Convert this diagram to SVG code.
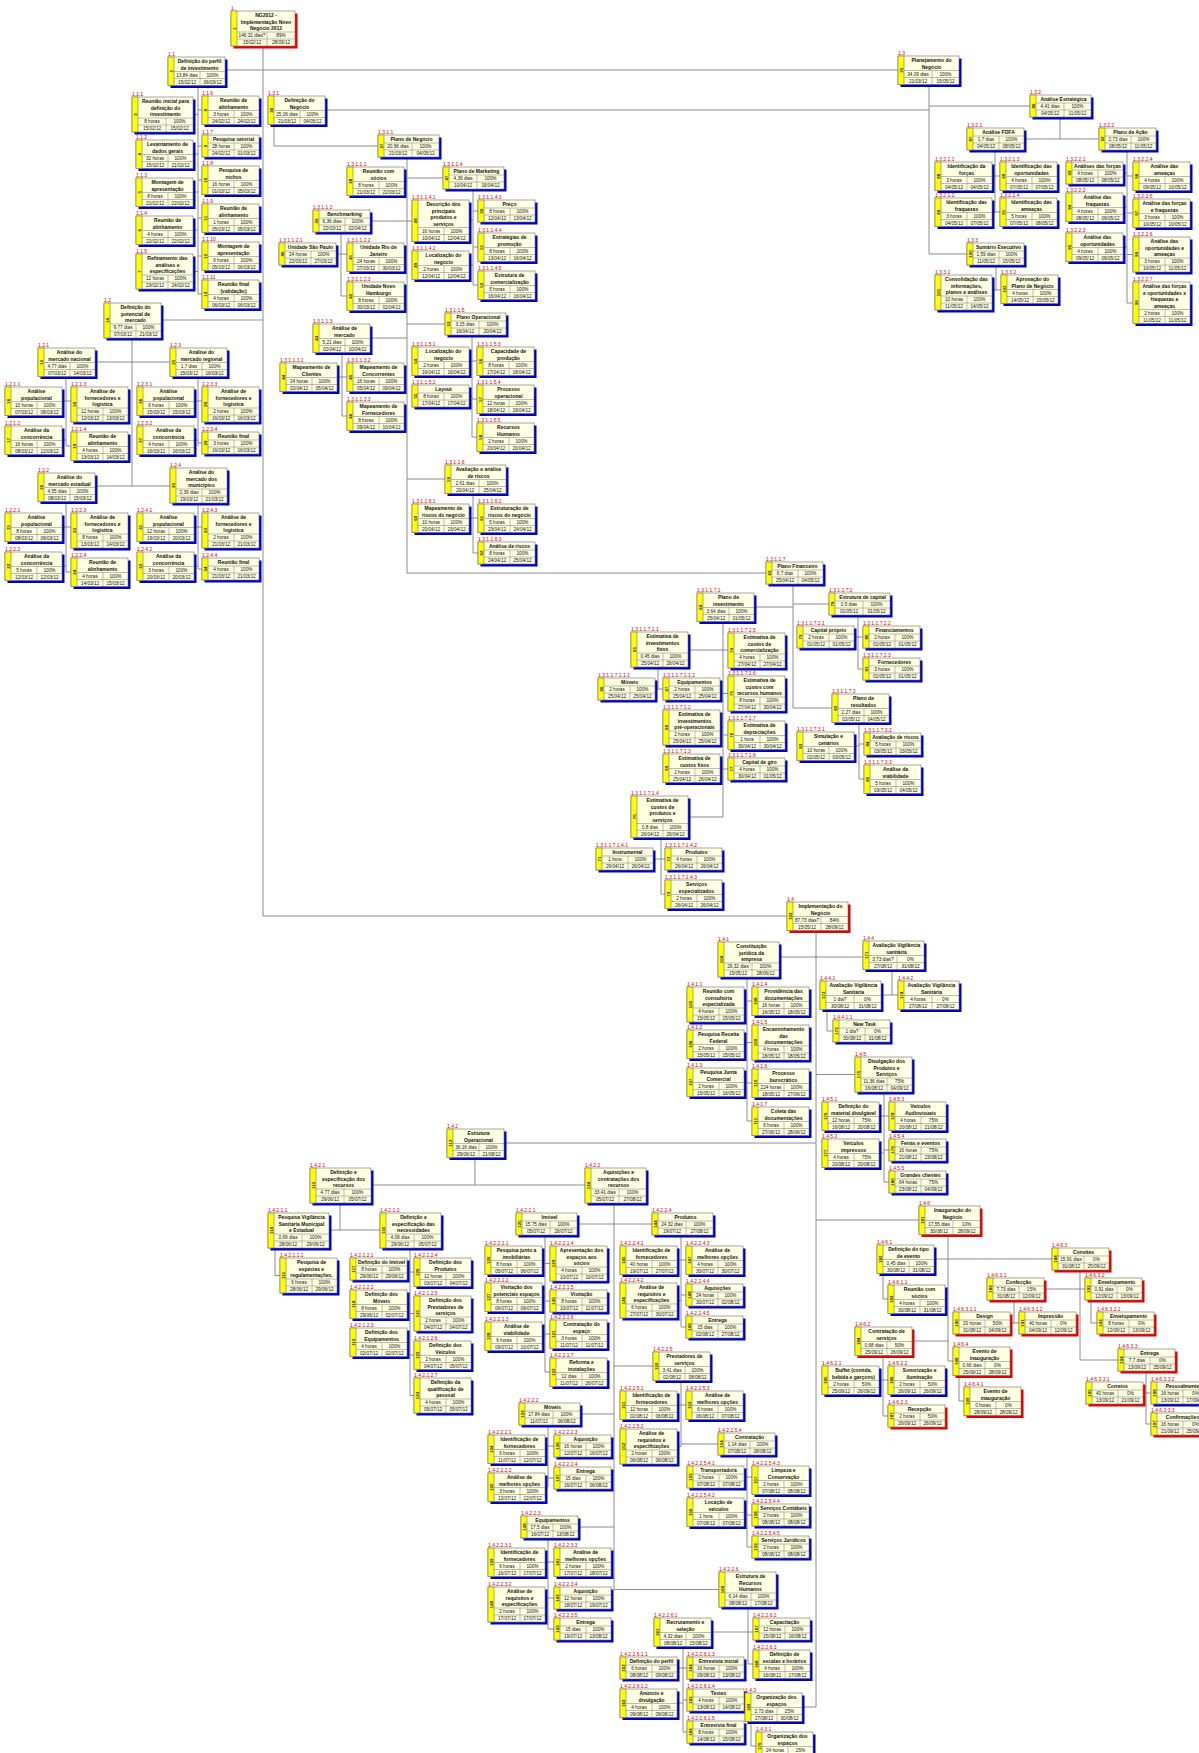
<svg xmlns="http://www.w3.org/2000/svg" xmlns:xlink="http://www.w3.org/1999/xlink" width="1199" height="1753" viewBox="0 0 1199 1753">
<style>
text{font-family:"Liberation Sans",Arial,sans-serif;fill:#111}
.bx{fill:#ffffe1;stroke:#6e6e6e;stroke-width:.6}
.st{fill:#ffff00;stroke:#6e6e6e;stroke-width:.6}
.sh{fill:currentColor}
.ln{stroke:#7a7a7a;stroke-width:.5;fill:none}
use{color:#0000c0}
.k use{color:#e00000}
.c{font-size:5px;fill:#d40000}
.t{font-size:5px;font-weight:bold;text-anchor:middle}
.d{font-size:4.7px;text-anchor:middle}
.i{font-size:4.4px;font-weight:bold;text-anchor:middle;transform:rotate(-90deg)}
#connectors path{stroke:#808080;stroke-width:.9;fill:none}
</style>
<defs>
<g id="a1"><rect class="sh" x="2.5" y="2.5" width="57" height="22"/><rect class="bx" width="57" height="22"/><rect class="st" width="6" height="22"/><path class="ln" d="M6 8H57M6 15H57M32 8V22"/></g>
<g id="a2"><rect class="sh" x="2.5" y="2.5" width="57" height="28.5"/><rect class="bx" width="57" height="28.5"/><rect class="st" width="6" height="28.5"/><path class="ln" d="M6 14.5H57M6 21.5H57M32 14.5V28.5"/></g>
<g id="a3"><rect class="sh" x="2.5" y="2.5" width="57" height="35"/><rect class="bx" width="57" height="35"/><rect class="st" width="6" height="35"/><path class="ln" d="M6 21H57M6 28H57M32 21V35"/></g>
<g id="a4"><rect class="sh" x="2.5" y="2.5" width="57" height="41.5"/><rect class="bx" width="57" height="41.5"/><rect class="st" width="6" height="41.5"/><path class="ln" d="M6 27.5H57M6 34.5H57M32 27.5V41.5"/></g>
<g id="b1"><rect class="sh" x="2.5" y="2.5" width="61" height="22"/><rect class="bx" width="61" height="22"/><rect class="st" width="6" height="22"/><path class="ln" d="M6 8H61M6 15H61M34 8V22"/></g>
<g id="b2"><rect class="sh" x="2.5" y="2.5" width="61" height="28.5"/><rect class="bx" width="61" height="28.5"/><rect class="st" width="6" height="28.5"/><path class="ln" d="M6 14.5H61M6 21.5H61M34 14.5V28.5"/></g>
<g id="b3"><rect class="sh" x="2.5" y="2.5" width="61" height="35"/><rect class="bx" width="61" height="35"/><rect class="st" width="6" height="35"/><path class="ln" d="M6 21H61M6 28H61M34 21V35"/></g>
</defs>
<rect width="1199" height="1753" fill="#ffffff"/>
<g id="connectors">
<path d="M263 46V916M225 70H898M161 320H263M263 916H787"/>
<path d="M198 85.5V294M193 114.5H198M193 154H198M193 192H198M193 230H198M193 271.5H198M198 110H202M198 146H202M198 180H202M198 218H202M198 256H202M198 294H202"/>
<path d="M132 338V486M95 362H170M95 486H170"/>
<path d="M66 376.5V446M62 401H71M62 440H66M66 446H71"/>
<path d="M198 376.5V446M194 401H202M194 440H198M198 443H202"/>
<path d="M66 501.5V572M62 527H71M62 566H66M66 572H71"/>
<path d="M198 503V569M194 527H202M194 566H198M198 569H202"/>
<path d="M929 84.5V254M325 110H929M929 106H1030M929 254H967"/>
<path d="M274 124.5V146H378"/>
<path d="M407 157V573M404 181H407M407 178H443M370 221H412M370 338H407M407 324H445M407 479H445M407 573H766"/>
<path d="M341 232V296M336 254H347M341 296H347"/>
<path d="M342 352.5V416M337 377H347M342 416H347"/>
<path d="M473 189V285M469 220H473M473 211H478M469 265H473M473 247H478M473 285H478"/>
<path d="M472 335V437M469 361H477M469 396H472M472 399H477M472 437H477"/>
<path d="M473 493.5V553M469 518H478M473 553H478"/>
<path d="M793 584V708M754 607H793M793 604H829M793 708H832"/>
<path d="M723 621.5V817M688 650H728M723 693.5H728M723 735H728M723 769H728M720 727.5H723M720 768H723M688 817H723"/>
<path d="M658 667V689M655 689H663"/>
<path d="M661 837.5V894M653 859H665M661 894H665"/>
<path d="M858 615V669M854 637H863M858 669H863"/>
<path d="M859 722.5V779M854 746H859M859 744H864M859 779H864"/>
<path d="M1060 117V139M1024 139H1099"/>
<path d="M995 150V212M992 176H1000M992 212H1000"/>
<path d="M1127 150V303M1123 173H1127M1123 207H1127M1123 247H1127M1127 176H1133M1127 213H1133M1127 254.5H1133M1127 303H1133"/>
<path d="M996 265V290M992 290H1001"/>
<path d="M816 930.5V1707M779 957H863M816 1074.5H855M504 1143H816M816 1220H919M802 1707H816"/>
<path d="M747 977V1121M744 1004.5H747M744 1044H747M744 1082H747M747 1001H752M747 1042.5H752M747 1083H752M747 1121H752"/>
<path d="M892 969.5V995M881 995H898"/>
<path d="M827 1009.5V1031H833"/>
<path d="M884 1092V1182M879 1116H889M879 1153H884M884 1150H889M884 1182H889"/>
<path d="M475 1157.5V1185M371 1185H585"/>
<path d="M340 1203V1230M329 1230H380"/>
<path d="M275 1248V1275.5H280"/>
<path d="M410 1248V1395.5M407 1269H410M407 1304H410M407 1342H410M410 1272H414M410 1313.5H414M410 1355H414M410 1395.5H414"/>
<path d="M614 1203V1589.5M577 1224H652M614 1366H653M580 1414H614M578 1527H614M614 1589.5H719"/>
<path d="M545 1235V1372M542 1260H545M542 1297H545M542 1336H545M545 1263.5H550M545 1301H550M545 1334H550M545 1372H550"/>
<path d="M548 1425V1487M545 1449H548M545 1487H548M548 1446H554M548 1478H554"/>
<path d="M548 1538V1629M545 1562H554M545 1604.5H548M548 1598H554M548 1629H554"/>
<path d="M681 1235V1327M677 1260H686M677 1300.5H681M681 1295H686M681 1327H686"/>
<path d="M681 1380.5V1446.5M677 1405H686M677 1446.5H681M681 1444H718"/>
<path d="M747 1455V1547M744 1477H752M744 1512H747M747 1515H752M747 1547H752"/>
<path d="M748 1607V1664M711 1632H753M748 1664H753"/>
<path d="M683 1646.5V1732M677 1668H687M677 1703H683M683 1700H687M683 1732H687"/>
<path d="M751 1721.5V1746H756"/>
<path d="M948 1234.5V1361M934 1259H1052M912 1341H948M948 1361H953"/>
<path d="M883 1273.5V1299H888"/>
<path d="M1080 1270V1360M1044 1289H1085M1080 1360H1118"/>
<path d="M1014 1300V1323M1010 1323H1019"/>
<path d="M1091 1300V1323H1097"/>
<path d="M1146 1371V1424M1143 1393H1151M1146 1424H1151"/>
<path d="M883 1355.5V1416M879 1380H888M883 1416H888"/>
<path d="M959 1375.5V1401H964"/>
</g>

<g id="n1" transform="translate(231,11)"><rect x="2.5" y="2.5" width="64" height="35" fill="#e00000"/><rect class="bx" width="64" height="35"/><rect class="st" width="6" height="35"/><path class="ln" d="M6 21H64M6 28H64M36 21V35"/><text class="c" y="-1.5">1</text><text class="i" x="-17.5" y="4.7">1</text><text class="t" x="35" y="6.2">NG2012 -<tspan x="35" dy="6.5">Implementação Novo</tspan><tspan x="35" dy="6.5">Negócio 2012</tspan></text><text class="d" y="26.2"><tspan x="21">146,32 dias?</tspan><tspan x="50">89%</tspan><tspan x="21" dy="7">15/02/12</tspan><tspan x="50">28/09/12</tspan></text></g>

<g id="n1.1" transform="translate(168,57)"><use href="#a2"/><text class="c" y="-1.5">1.1</text><text class="i" x="-14.2" y="4.7">2</text><text class="t" x="31.5" y="6.2">Definição do perfil<tspan x="31.5" dy="6.5">de investimento</tspan></text><text class="d" y="19.7"><tspan x="19">13,84 dias</tspan><tspan x="44.5">100%</tspan><tspan x="19" dy="7">15/02/12</tspan><tspan x="44.5">06/03/12</tspan></text></g>
<g id="n1.1.1" transform="translate(132,97)"><use href="#b3"/><text class="c" y="-1.5">1.1.1</text><text class="i" x="-17.5" y="4.7">3</text><text class="t" x="33.5" y="6.2">Reunião inicial para<tspan x="33.5" dy="6.5">definição do</tspan><tspan x="33.5" dy="6.5">investimento</tspan></text><text class="d" y="26.2"><tspan x="20">8 horas</tspan><tspan x="47.5">100%</tspan><tspan x="20" dy="7">15/02/12</tspan><tspan x="47.5">15/02/12</tspan></text></g>
<g id="n1.1.2" transform="translate(136,140)"><use href="#a2"/><text class="c" y="-1.5">1.1.2</text><text class="i" x="-14.2" y="4.7">4</text><text class="t" x="31.5" y="6.2">Levantamento de<tspan x="31.5" dy="6.5">dados gerais</tspan></text><text class="d" y="19.7"><tspan x="19">32 horas</tspan><tspan x="44.5">100%</tspan><tspan x="19" dy="7">15/02/12</tspan><tspan x="44.5">21/02/12</tspan></text></g>
<g id="n1.1.3" transform="translate(136,178)"><use href="#a2"/><text class="c" y="-1.5">1.1.3</text><text class="i" x="-14.2" y="4.7">5</text><text class="t" x="31.5" y="6.2">Montagem de<tspan x="31.5" dy="6.5">apresentação</tspan></text><text class="d" y="19.7"><tspan x="19">8 horas</tspan><tspan x="44.5">100%</tspan><tspan x="19" dy="7">21/02/12</tspan><tspan x="44.5">22/02/12</tspan></text></g>
<g id="n1.1.4" transform="translate(136,216)"><use href="#a2"/><text class="c" y="-1.5">1.1.4</text><text class="i" x="-14.2" y="4.7">6</text><text class="t" x="31.5" y="6.2">Reunião de<tspan x="31.5" dy="6.5">alinhamento</tspan></text><text class="d" y="19.7"><tspan x="19">4 horas</tspan><tspan x="44.5">100%</tspan><tspan x="19" dy="7">22/02/12</tspan><tspan x="44.5">22/02/12</tspan></text></g>
<g id="n1.1.5" transform="translate(136,254)"><use href="#a3"/><text class="c" y="-1.5">1.1.5</text><text class="i" x="-17.5" y="4.7">7</text><text class="t" x="31.5" y="6.2">Refinamento das<tspan x="31.5" dy="6.5">análises e</tspan><tspan x="31.5" dy="6.5">especificações</tspan></text><text class="d" y="26.2"><tspan x="19">12 horas</tspan><tspan x="44.5">100%</tspan><tspan x="19" dy="7">23/02/12</tspan><tspan x="44.5">24/02/12</tspan></text></g>
<g id="n1.1.6" transform="translate(202,96)"><use href="#a2"/><text class="c" y="-1.5">1.1.6</text><text class="i" x="-14.2" y="4.7">8</text><text class="t" x="31.5" y="6.2">Reunião de<tspan x="31.5" dy="6.5">alinhamento</tspan></text><text class="d" y="19.7"><tspan x="19">3 horas</tspan><tspan x="44.5">100%</tspan><tspan x="19" dy="7">24/02/12</tspan><tspan x="44.5">24/02/12</tspan></text></g>
<g id="n1.1.7" transform="translate(202,135)"><use href="#a1"/><text class="c" y="-1.5">1.1.7</text><text class="i" x="-11" y="4.7">9</text><text class="t" x="31.5" y="6.2">Pesquisa setorial</text><text class="d" y="13.2"><tspan x="19">28 horas</tspan><tspan x="44.5">100%</tspan><tspan x="19" dy="7">24/02/12</tspan><tspan x="44.5">01/03/12</tspan></text></g>
<g id="n1.1.8" transform="translate(202,166)"><use href="#a2"/><text class="c" y="-1.5">1.1.8</text><text class="i" x="-14.2" y="4.7">10</text><text class="t" x="31.5" y="6.2">Pesquisa de<tspan x="31.5" dy="6.5">nichos</tspan></text><text class="d" y="19.7"><tspan x="19">16 horas</tspan><tspan x="44.5">100%</tspan><tspan x="19" dy="7">01/03/12</tspan><tspan x="44.5">05/03/12</tspan></text></g>
<g id="n1.1.9" transform="translate(202,204)"><use href="#a2"/><text class="c" y="-1.5">1.1.9</text><text class="i" x="-14.2" y="4.7">11</text><text class="t" x="31.5" y="6.2">Reunião de<tspan x="31.5" dy="6.5">alinhamento</tspan></text><text class="d" y="19.7"><tspan x="19">1 horas</tspan><tspan x="44.5">100%</tspan><tspan x="19" dy="7">05/03/12</tspan><tspan x="44.5">05/03/12</tspan></text></g>
<g id="n1.1.10" transform="translate(202,242)"><use href="#a2"/><text class="c" y="-1.5">1.1.10</text><text class="i" x="-14.2" y="4.7">12</text><text class="t" x="31.5" y="6.2">Montagem de<tspan x="31.5" dy="6.5">apresentação</tspan></text><text class="d" y="19.7"><tspan x="19">6 horas</tspan><tspan x="44.5">100%</tspan><tspan x="19" dy="7">05/03/12</tspan><tspan x="44.5">06/03/12</tspan></text></g>
<g id="n1.1.11" transform="translate(202,280)"><use href="#a2"/><text class="c" y="-1.5">1.1.11</text><text class="i" x="-14.2" y="4.7">13</text><text class="t" x="31.5" y="6.2">Reunião final<tspan x="31.5" dy="6.5">(validação)</tspan></text><text class="d" y="19.7"><tspan x="19">4 horas</tspan><tspan x="44.5">100%</tspan><tspan x="19" dy="7">06/03/12</tspan><tspan x="44.5">06/03/12</tspan></text></g>

<g id="n1.2" transform="translate(104,303)"><use href="#a3"/><text class="c" y="-1.5">1.2</text><text class="i" x="-17.5" y="4.7">14</text><text class="t" x="31.5" y="6.2">Definição do<tspan x="31.5" dy="6.5">potencial de</tspan><tspan x="31.5" dy="6.5">mercado</tspan></text><text class="d" y="26.2"><tspan x="19">9,77 dias</tspan><tspan x="44.5">100%</tspan><tspan x="19" dy="7">07/03/12</tspan><tspan x="44.5">21/03/12</tspan></text></g>
<g id="n1.2.1" transform="translate(38,348)"><use href="#a2"/><text class="c" y="-1.5">1.2.1</text><text class="i" x="-14.2" y="4.7">15</text><text class="t" x="31.5" y="6.2">Análise do<tspan x="31.5" dy="6.5">mercado nacional</tspan></text><text class="d" y="19.7"><tspan x="19">4,77 dias</tspan><tspan x="44.5">100%</tspan><tspan x="19" dy="7">07/03/12</tspan><tspan x="44.5">14/03/12</tspan></text></g>
<g id="n1.2.1.1" transform="translate(5,387)"><use href="#a2"/><text class="c" y="-1.5">1.2.1.1</text><text class="i" x="-14.2" y="4.7">16</text><text class="t" x="31.5" y="6.2">Análise<tspan x="31.5" dy="6.5">populacional</tspan></text><text class="d" y="19.7"><tspan x="19">10 horas</tspan><tspan x="44.5">100%</tspan><tspan x="19" dy="7">07/03/12</tspan><tspan x="44.5">08/03/12</tspan></text></g>
<g id="n1.2.1.2" transform="translate(5,426)"><use href="#a2"/><text class="c" y="-1.5">1.2.1.2</text><text class="i" x="-14.2" y="4.7">17</text><text class="t" x="31.5" y="6.2">Análise da<tspan x="31.5" dy="6.5">concorrência</tspan></text><text class="d" y="19.7"><tspan x="19">16 horas</tspan><tspan x="44.5">100%</tspan><tspan x="19" dy="7">08/03/12</tspan><tspan x="44.5">12/03/12</tspan></text></g>
<g id="n1.2.1.3" transform="translate(71,387)"><use href="#a3"/><text class="c" y="-1.5">1.2.1.3</text><text class="i" x="-17.5" y="4.7">18</text><text class="t" x="31.5" y="6.2">Análise de<tspan x="31.5" dy="6.5">fornecedores e</tspan><tspan x="31.5" dy="6.5">logística</tspan></text><text class="d" y="26.2"><tspan x="19">12 horas</tspan><tspan x="44.5">100%</tspan><tspan x="19" dy="7">12/03/12</tspan><tspan x="44.5">13/03/12</tspan></text></g>
<g id="n1.2.1.4" transform="translate(71,432)"><use href="#a2"/><text class="c" y="-1.5">1.2.1.4</text><text class="i" x="-14.2" y="4.7">19</text><text class="t" x="31.5" y="6.2">Reunião de<tspan x="31.5" dy="6.5">alinhamento</tspan></text><text class="d" y="19.7"><tspan x="19">4 horas</tspan><tspan x="44.5">100%</tspan><tspan x="19" dy="7">13/03/12</tspan><tspan x="44.5">14/03/12</tspan></text></g>
<g id="n1.2.2" transform="translate(38,473)"><use href="#a2"/><text class="c" y="-1.5">1.2.2</text><text class="i" x="-14.2" y="4.7">20</text><text class="t" x="31.5" y="6.2">Análise do<tspan x="31.5" dy="6.5">mercado estadual</tspan></text><text class="d" y="19.7"><tspan x="19">4,55 dias</tspan><tspan x="44.5">100%</tspan><tspan x="19" dy="7">08/03/12</tspan><tspan x="44.5">15/03/12</tspan></text></g>
<g id="n1.2.2.1" transform="translate(5,513)"><use href="#a2"/><text class="c" y="-1.5">1.2.2.1</text><text class="i" x="-14.2" y="4.7">21</text><text class="t" x="31.5" y="6.2">Análise<tspan x="31.5" dy="6.5">populacional</tspan></text><text class="d" y="19.7"><tspan x="19">8 horas</tspan><tspan x="44.5">100%</tspan><tspan x="19" dy="7">08/03/12</tspan><tspan x="44.5">09/03/12</tspan></text></g>
<g id="n1.2.2.2" transform="translate(5,552)"><use href="#a2"/><text class="c" y="-1.5">1.2.2.2</text><text class="i" x="-14.2" y="4.7">22</text><text class="t" x="31.5" y="6.2">Análise da<tspan x="31.5" dy="6.5">concorrência</tspan></text><text class="d" y="19.7"><tspan x="19">5 horas</tspan><tspan x="44.5">100%</tspan><tspan x="19" dy="7">12/03/12</tspan><tspan x="44.5">12/03/12</tspan></text></g>
<g id="n1.2.2.3" transform="translate(71,513)"><use href="#a3"/><text class="c" y="-1.5">1.2.2.3</text><text class="i" x="-17.5" y="4.7">23</text><text class="t" x="31.5" y="6.2">Análise de<tspan x="31.5" dy="6.5">fornecedores e</tspan><tspan x="31.5" dy="6.5">logística</tspan></text><text class="d" y="26.2"><tspan x="19">8 horas</tspan><tspan x="44.5">100%</tspan><tspan x="19" dy="7">13/03/12</tspan><tspan x="44.5">14/03/12</tspan></text></g>
<g id="n1.2.2.4" transform="translate(71,558)"><use href="#a2"/><text class="c" y="-1.5">1.2.2.4</text><text class="i" x="-14.2" y="4.7">24</text><text class="t" x="31.5" y="6.2">Reunião de<tspan x="31.5" dy="6.5">alinhamento</tspan></text><text class="d" y="19.7"><tspan x="19">4 horas</tspan><tspan x="44.5">100%</tspan><tspan x="19" dy="7">14/03/12</tspan><tspan x="44.5">15/03/12</tspan></text></g>
<g id="n1.2.3" transform="translate(170,348)"><use href="#a2"/><text class="c" y="-1.5">1.2.3</text><text class="i" x="-14.2" y="4.7">25</text><text class="t" x="31.5" y="6.2">Análise do<tspan x="31.5" dy="6.5">mercado regional</tspan></text><text class="d" y="19.7"><tspan x="19">1,7 dias</tspan><tspan x="44.5">100%</tspan><tspan x="19" dy="7">15/03/12</tspan><tspan x="44.5">16/03/12</tspan></text></g>
<g id="n1.2.3.1" transform="translate(137,387)"><use href="#a2"/><text class="c" y="-1.5">1.2.3.1</text><text class="i" x="-14.2" y="4.7">26</text><text class="t" x="31.5" y="6.2">Análise<tspan x="31.5" dy="6.5">populacional</tspan></text><text class="d" y="19.7"><tspan x="19">6 horas</tspan><tspan x="44.5">100%</tspan><tspan x="19" dy="7">15/03/12</tspan><tspan x="44.5">15/03/12</tspan></text></g>
<g id="n1.2.3.2" transform="translate(137,426)"><use href="#a2"/><text class="c" y="-1.5">1.2.3.2</text><text class="i" x="-14.2" y="4.7">27</text><text class="t" x="31.5" y="6.2">Análise da<tspan x="31.5" dy="6.5">concorrência</tspan></text><text class="d" y="19.7"><tspan x="19">4 horas</tspan><tspan x="44.5">100%</tspan><tspan x="19" dy="7">16/03/12</tspan><tspan x="44.5">16/03/12</tspan></text></g>
<g id="n1.2.3.3" transform="translate(202,387)"><use href="#a3"/><text class="c" y="-1.5">1.2.3.3</text><text class="i" x="-17.5" y="4.7">28</text><text class="t" x="31.5" y="6.2">Análise de<tspan x="31.5" dy="6.5">fornecedores e</tspan><tspan x="31.5" dy="6.5">logística</tspan></text><text class="d" y="26.2"><tspan x="19">2 horas</tspan><tspan x="44.5">100%</tspan><tspan x="19" dy="7">16/03/12</tspan><tspan x="44.5">16/03/12</tspan></text></g>
<g id="n1.2.3.4" transform="translate(202,432)"><use href="#a1"/><text class="c" y="-1.5">1.2.3.4</text><text class="i" x="-11" y="4.7">29</text><text class="t" x="31.5" y="6.2">Reunião final</text><text class="d" y="13.2"><tspan x="19">3 horas</tspan><tspan x="44.5">100%</tspan><tspan x="19" dy="7">16/03/12</tspan><tspan x="44.5">16/03/12</tspan></text></g>
<g id="n1.2.4" transform="translate(170,468)"><use href="#a3"/><text class="c" y="-1.5">1.2.4</text><text class="i" x="-17.5" y="4.7">30</text><text class="t" x="31.5" y="6.2">Análise do<tspan x="31.5" dy="6.5">mercado dos</tspan><tspan x="31.5" dy="6.5">municípios</tspan></text><text class="d" y="26.2"><tspan x="19">2,39 dias</tspan><tspan x="44.5">100%</tspan><tspan x="19" dy="7">19/03/12</tspan><tspan x="44.5">21/03/12</tspan></text></g>
<g id="n1.2.4.1" transform="translate(137,513)"><use href="#a2"/><text class="c" y="-1.5">1.2.4.1</text><text class="i" x="-14.2" y="4.7">31</text><text class="t" x="31.5" y="6.2">Análise<tspan x="31.5" dy="6.5">populacional</tspan></text><text class="d" y="19.7"><tspan x="19">12 horas</tspan><tspan x="44.5">100%</tspan><tspan x="19" dy="7">19/03/12</tspan><tspan x="44.5">20/03/12</tspan></text></g>
<g id="n1.2.4.2" transform="translate(137,552)"><use href="#a2"/><text class="c" y="-1.5">1.2.4.2</text><text class="i" x="-14.2" y="4.7">32</text><text class="t" x="31.5" y="6.2">Análise da<tspan x="31.5" dy="6.5">concorrência</tspan></text><text class="d" y="19.7"><tspan x="19">3 horas</tspan><tspan x="44.5">100%</tspan><tspan x="19" dy="7">20/03/12</tspan><tspan x="44.5">20/03/12</tspan></text></g>
<g id="n1.2.4.3" transform="translate(202,513)"><use href="#a3"/><text class="c" y="-1.5">1.2.4.3</text><text class="i" x="-17.5" y="4.7">33</text><text class="t" x="31.5" y="6.2">Análise de<tspan x="31.5" dy="6.5">fornecedores e</tspan><tspan x="31.5" dy="6.5">logística</tspan></text><text class="d" y="26.2"><tspan x="19">2 horas</tspan><tspan x="44.5">100%</tspan><tspan x="19" dy="7">21/03/12</tspan><tspan x="44.5">21/03/12</tspan></text></g>
<g id="n1.2.4.4" transform="translate(202,558)"><use href="#a1"/><text class="c" y="-1.5">1.2.4.4</text><text class="i" x="-11" y="4.7">34</text><text class="t" x="31.5" y="6.2">Reunião final</text><text class="d" y="13.2"><tspan x="19">4 horas</tspan><tspan x="44.5">100%</tspan><tspan x="19" dy="7">21/03/12</tspan><tspan x="44.5">21/03/12</tspan></text></g>

<g id="n1.3" transform="translate(898,56)"><use href="#b2"/><text class="c" y="-1.5">1.3</text><text class="i" x="-14.2" y="4.7">35</text><text class="t" x="33.5" y="6.2">Planejamento do<tspan x="33.5" dy="6.5">Negócio</tspan></text><text class="d" y="19.7"><tspan x="20">34,09 dias</tspan><tspan x="47.5">100%</tspan><tspan x="20" dy="7">21/03/12</tspan><tspan x="47.5">15/05/12</tspan></text></g>
<g id="n1.3.1" transform="translate(268,96)"><use href="#a2"/><text class="c" y="-1.5">1.3.1</text><text class="i" x="-14.2" y="4.7">36</text><text class="t" x="31.5" y="6.2">Definição do<tspan x="31.5" dy="6.5">Negócio</tspan></text><text class="d" y="19.7"><tspan x="19">25,06 dias</tspan><tspan x="44.5">100%</tspan><tspan x="19" dy="7">21/03/12</tspan><tspan x="44.5">04/05/12</tspan></text></g>
<g id="n1.3.1.1" transform="translate(378,135)"><use href="#b1"/><text class="c" y="-1.5">1.3.1.1</text><text class="i" x="-11" y="4.7">37</text><text class="t" x="33.5" y="6.2">Plano de Negócio</text><text class="d" y="13.2"><tspan x="20">20,96 dias</tspan><tspan x="47.5">100%</tspan><tspan x="20" dy="7">21/03/12</tspan><tspan x="47.5">04/05/12</tspan></text></g>
<g id="n1.3.1.1.1" transform="translate(347,167)"><use href="#a2"/><text class="c" y="-1.5">1.3.1.1.1</text><text class="i" x="-14.2" y="4.7">38</text><text class="t" x="31.5" y="6.2">Reunião com<tspan x="31.5" dy="6.5">sócios</tspan></text><text class="d" y="19.7"><tspan x="19">8 horas</tspan><tspan x="44.5">100%</tspan><tspan x="19" dy="7">21/03/12</tspan><tspan x="44.5">22/03/12</tspan></text></g>
<g id="n1.3.1.1.2" transform="translate(313,210)"><use href="#a1"/><text class="c" y="-1.5">1.3.1.1.2</text><text class="i" x="-11" y="4.7">39</text><text class="t" x="31.5" y="6.2">Benchmarking</text><text class="d" y="13.2"><tspan x="19">6,36 dias</tspan><tspan x="44.5">100%</tspan><tspan x="19" dy="7">22/03/12</tspan><tspan x="44.5">02/04/12</tspan></text></g>
<g id="n1.3.1.1.2.1" transform="translate(279,243)"><use href="#a1"/><text class="c" y="-1.5">1.3.1.1.2.1</text><text class="i" x="-11" y="4.7">40</text><text class="t" x="31.5" y="6.2">Unidade São Paulo</text><text class="d" y="13.2"><tspan x="19">24 horas</tspan><tspan x="44.5">100%</tspan><tspan x="19" dy="7">22/03/12</tspan><tspan x="44.5">27/03/12</tspan></text></g>
<g id="n1.3.1.1.2.2" transform="translate(347,243)"><use href="#a2"/><text class="c" y="-1.5">1.3.1.1.2.2</text><text class="i" x="-14.2" y="4.7">41</text><text class="t" x="31.5" y="6.2">Unidade Rio de<tspan x="31.5" dy="6.5">Janeiro</tspan></text><text class="d" y="19.7"><tspan x="19">24 horas</tspan><tspan x="44.5">100%</tspan><tspan x="19" dy="7">27/03/12</tspan><tspan x="44.5">30/03/12</tspan></text></g>
<g id="n1.3.1.1.2.3" transform="translate(347,282)"><use href="#a2"/><text class="c" y="-1.5">1.3.1.1.2.3</text><text class="i" x="-14.2" y="4.7">42</text><text class="t" x="31.5" y="6.2">Unidade Novo<tspan x="31.5" dy="6.5">Hamburgo</tspan></text><text class="d" y="19.7"><tspan x="19">8 horas</tspan><tspan x="44.5">100%</tspan><tspan x="19" dy="7">30/03/12</tspan><tspan x="44.5">02/04/12</tspan></text></g>
<g id="n1.3.1.1.3" transform="translate(313,324)"><use href="#a2"/><text class="c" y="-1.5">1.3.1.1.3</text><text class="i" x="-14.2" y="4.7">43</text><text class="t" x="31.5" y="6.2">Análise de<tspan x="31.5" dy="6.5">mercado</tspan></text><text class="d" y="19.7"><tspan x="19">5,21 dias</tspan><tspan x="44.5">100%</tspan><tspan x="19" dy="7">02/04/12</tspan><tspan x="44.5">10/04/12</tspan></text></g>
<g id="n1.3.1.1.3.1" transform="translate(280,363)"><use href="#a2"/><text class="c" y="-1.5">1.3.1.1.3.1</text><text class="i" x="-14.2" y="4.7">44</text><text class="t" x="31.5" y="6.2">Mapeamento de<tspan x="31.5" dy="6.5">Clientes</tspan></text><text class="d" y="19.7"><tspan x="19">24 horas</tspan><tspan x="44.5">100%</tspan><tspan x="19" dy="7">02/04/12</tspan><tspan x="44.5">05/04/12</tspan></text></g>
<g id="n1.3.1.1.3.2" transform="translate(347,363)"><use href="#a2"/><text class="c" y="-1.5">1.3.1.1.3.2</text><text class="i" x="-14.2" y="4.7">45</text><text class="t" x="31.5" y="6.2">Mapeamento de<tspan x="31.5" dy="6.5">Concorrentes</tspan></text><text class="d" y="19.7"><tspan x="19">16 horas</tspan><tspan x="44.5">100%</tspan><tspan x="19" dy="7">05/04/12</tspan><tspan x="44.5">09/04/12</tspan></text></g>
<g id="n1.3.1.1.3.3" transform="translate(347,402)"><use href="#a2"/><text class="c" y="-1.5">1.3.1.1.3.3</text><text class="i" x="-14.2" y="4.7">46</text><text class="t" x="31.5" y="6.2">Mapeamento de<tspan x="31.5" dy="6.5">Fornecedores</tspan></text><text class="d" y="19.7"><tspan x="19">8 horas</tspan><tspan x="44.5">100%</tspan><tspan x="19" dy="7">09/04/12</tspan><tspan x="44.5">10/04/12</tspan></text></g>
<g id="n1.3.1.1.4" transform="translate(443,167)"><use href="#b1"/><text class="c" y="-1.5">1.3.1.1.4</text><text class="i" x="-11" y="4.7">47</text><text class="t" x="33.5" y="6.2">Plano de Marketing</text><text class="d" y="13.2"><tspan x="20">4,39 dias</tspan><tspan x="47.5">100%</tspan><tspan x="20" dy="7">10/04/12</tspan><tspan x="47.5">16/04/12</tspan></text></g>
<g id="n1.3.1.1.4.1" transform="translate(412,200)"><use href="#a4"/><text class="c" y="-1.5">1.3.1.1.4.1</text><text class="i" x="-20.7" y="4.7">48</text><text class="t" x="31.5" y="6.2">Descrição dos<tspan x="31.5" dy="6.5">principais</tspan><tspan x="31.5" dy="6.5">produtos e</tspan><tspan x="31.5" dy="6.5">serviços</tspan></text><text class="d" y="32.7"><tspan x="19">16 horas</tspan><tspan x="44.5">100%</tspan><tspan x="19" dy="7">10/04/12</tspan><tspan x="44.5">12/04/12</tspan></text></g>
<g id="n1.3.1.1.4.2" transform="translate(412,251)"><use href="#a2"/><text class="c" y="-1.5">1.3.1.1.4.2</text><text class="i" x="-14.2" y="4.7">49</text><text class="t" x="31.5" y="6.2">Localização do<tspan x="31.5" dy="6.5">negócio</tspan></text><text class="d" y="19.7"><tspan x="19">2 horas</tspan><tspan x="44.5">100%</tspan><tspan x="19" dy="7">12/04/12</tspan><tspan x="44.5">12/04/12</tspan></text></g>
<g id="n1.3.1.1.4.3" transform="translate(478,200)"><use href="#a1"/><text class="c" y="-1.5">1.3.1.1.4.3</text><text class="i" x="-11" y="4.7">50</text><text class="t" x="31.5" y="6.2">Preço</text><text class="d" y="13.2"><tspan x="19">8 horas</tspan><tspan x="44.5">100%</tspan><tspan x="19" dy="7">12/04/12</tspan><tspan x="44.5">13/04/12</tspan></text></g>
<g id="n1.3.1.1.4.4" transform="translate(478,233)"><use href="#a2"/><text class="c" y="-1.5">1.3.1.1.4.4</text><text class="i" x="-14.2" y="4.7">51</text><text class="t" x="31.5" y="6.2">Estratégias de<tspan x="31.5" dy="6.5">promoção</tspan></text><text class="d" y="19.7"><tspan x="19">8 horas</tspan><tspan x="44.5">100%</tspan><tspan x="19" dy="7">13/04/12</tspan><tspan x="44.5">16/04/12</tspan></text></g>
<g id="n1.3.1.1.4.5" transform="translate(478,271)"><use href="#a2"/><text class="c" y="-1.5">1.3.1.1.4.5</text><text class="i" x="-14.2" y="4.7">52</text><text class="t" x="31.5" y="6.2">Estrutura de<tspan x="31.5" dy="6.5">comercialização</tspan></text><text class="d" y="19.7"><tspan x="19">5 horas</tspan><tspan x="44.5">100%</tspan><tspan x="19" dy="7">16/04/12</tspan><tspan x="44.5">16/04/12</tspan></text></g>
<g id="n1.3.1.1.5" transform="translate(445,313)"><use href="#b1"/><text class="c" y="-1.5">1.3.1.1.5</text><text class="i" x="-11" y="4.7">53</text><text class="t" x="33.5" y="6.2">Plano Operacional</text><text class="d" y="13.2"><tspan x="20">3,15 dias</tspan><tspan x="47.5">100%</tspan><tspan x="20" dy="7">16/04/12</tspan><tspan x="47.5">20/04/12</tspan></text></g>
<g id="n1.3.1.1.5.1" transform="translate(412,347)"><use href="#a2"/><text class="c" y="-1.5">1.3.1.1.5.1</text><text class="i" x="-14.2" y="4.7">54</text><text class="t" x="31.5" y="6.2">Localização do<tspan x="31.5" dy="6.5">negócio</tspan></text><text class="d" y="19.7"><tspan x="19">2 horas</tspan><tspan x="44.5">100%</tspan><tspan x="19" dy="7">16/04/12</tspan><tspan x="44.5">16/04/12</tspan></text></g>
<g id="n1.3.1.1.5.2" transform="translate(412,385)"><use href="#a1"/><text class="c" y="-1.5">1.3.1.1.5.2</text><text class="i" x="-11" y="4.7">55</text><text class="t" x="31.5" y="6.2">Layout</text><text class="d" y="13.2"><tspan x="19">8 horas</tspan><tspan x="44.5">100%</tspan><tspan x="19" dy="7">17/04/12</tspan><tspan x="44.5">17/04/12</tspan></text></g>
<g id="n1.3.1.1.5.3" transform="translate(477,347)"><use href="#a2"/><text class="c" y="-1.5">1.3.1.1.5.3</text><text class="i" x="-14.2" y="4.7">56</text><text class="t" x="31.5" y="6.2">Capacidade de<tspan x="31.5" dy="6.5">produção</tspan></text><text class="d" y="19.7"><tspan x="19">8 horas</tspan><tspan x="44.5">100%</tspan><tspan x="19" dy="7">17/04/12</tspan><tspan x="44.5">18/04/12</tspan></text></g>
<g id="n1.3.1.1.5.4" transform="translate(477,385)"><use href="#a2"/><text class="c" y="-1.5">1.3.1.1.5.4</text><text class="i" x="-14.2" y="4.7">57</text><text class="t" x="31.5" y="6.2">Processo<tspan x="31.5" dy="6.5">operacional</tspan></text><text class="d" y="19.7"><tspan x="19">12 horas</tspan><tspan x="44.5">100%</tspan><tspan x="19" dy="7">18/04/12</tspan><tspan x="44.5">19/04/12</tspan></text></g>
<g id="n1.3.1.1.5.5" transform="translate(477,423)"><use href="#a2"/><text class="c" y="-1.5">1.3.1.1.5.5</text><text class="i" x="-14.2" y="4.7">58</text><text class="t" x="31.5" y="6.2">Recursos<tspan x="31.5" dy="6.5">Humanos</tspan></text><text class="d" y="19.7"><tspan x="19">2 horas</tspan><tspan x="44.5">100%</tspan><tspan x="19" dy="7">20/04/12</tspan><tspan x="44.5">20/04/12</tspan></text></g>
<g id="n1.3.1.1.6" transform="translate(445,465)"><use href="#b2"/><text class="c" y="-1.5">1.3.1.1.6</text><text class="i" x="-14.2" y="4.7">59</text><text class="t" x="33.5" y="6.2">Avaliação e análise<tspan x="33.5" dy="6.5">de riscos</tspan></text><text class="d" y="19.7"><tspan x="20">2,61 dias</tspan><tspan x="47.5">100%</tspan><tspan x="20" dy="7">20/04/12</tspan><tspan x="47.5">25/04/12</tspan></text></g>
<g id="n1.3.1.1.6.1" transform="translate(412,504)"><use href="#a2"/><text class="c" y="-1.5">1.3.1.1.6.1</text><text class="i" x="-14.2" y="4.7">60</text><text class="t" x="31.5" y="6.2">Mapeamento de<tspan x="31.5" dy="6.5">riscos do negócio</tspan></text><text class="d" y="19.7"><tspan x="19">10 horas</tspan><tspan x="44.5">100%</tspan><tspan x="19" dy="7">20/04/12</tspan><tspan x="44.5">23/04/12</tspan></text></g>
<g id="n1.3.1.1.6.2" transform="translate(478,504)"><use href="#a2"/><text class="c" y="-1.5">1.3.1.1.6.2</text><text class="i" x="-14.2" y="4.7">61</text><text class="t" x="31.5" y="6.2">Estruturação de<tspan x="31.5" dy="6.5">riscos do negócio</tspan></text><text class="d" y="19.7"><tspan x="19">5 horas</tspan><tspan x="44.5">100%</tspan><tspan x="19" dy="7">23/04/12</tspan><tspan x="44.5">24/04/12</tspan></text></g>
<g id="n1.3.1.1.6.3" transform="translate(478,542)"><use href="#a1"/><text class="c" y="-1.5">1.3.1.1.6.3</text><text class="i" x="-11" y="4.7">62</text><text class="t" x="31.5" y="6.2">Análise de riscos</text><text class="d" y="13.2"><tspan x="19">8 horas</tspan><tspan x="44.5">100%</tspan><tspan x="19" dy="7">24/04/12</tspan><tspan x="44.5">25/04/12</tspan></text></g>
<g id="n1.3.1.1.7" transform="translate(766,562)"><use href="#a1"/><text class="c" y="-1.5">1.3.1.1.7</text><text class="i" x="-11" y="4.7">63</text><text class="t" x="31.5" y="6.2">Plano Financeiro</text><text class="d" y="13.2"><tspan x="19">6,7 dias</tspan><tspan x="44.5">100%</tspan><tspan x="19" dy="7">25/04/12</tspan><tspan x="44.5">04/05/12</tspan></text></g>
<g id="n1.3.1.1.7.1" transform="translate(697,593)"><use href="#a2"/><text class="c" y="-1.5">1.3.1.1.7.1</text><text class="i" x="-14.2" y="4.7">64</text><text class="t" x="31.5" y="6.2">Plano de<tspan x="31.5" dy="6.5">investimento</tspan></text><text class="d" y="19.7"><tspan x="19">3,64 dias</tspan><tspan x="44.5">100%</tspan><tspan x="19" dy="7">25/04/12</tspan><tspan x="44.5">01/05/12</tspan></text></g>
<g id="n1.3.1.1.7.1.1" transform="translate(631,632)"><use href="#a3"/><text class="c" y="-1.5">1.3.1.1.7.1.1</text><text class="i" x="-17.5" y="4.7">65</text><text class="t" x="31.5" y="6.2">Estimativa de<tspan x="31.5" dy="6.5">investimentos</tspan><tspan x="31.5" dy="6.5">fixos</tspan></text><text class="d" y="26.2"><tspan x="19">0,45 dias</tspan><tspan x="44.5">100%</tspan><tspan x="19" dy="7">25/04/12</tspan><tspan x="44.5">26/04/12</tspan></text></g>
<g id="n1.3.1.1.7.1.1.1" transform="translate(598,678)"><use href="#a1"/><text class="c" y="-1.5">1.3.1.1.7.1.1.1</text><text class="i" x="-11" y="4.7">66</text><text class="t" x="31.5" y="6.2">Móveis</text><text class="d" y="13.2"><tspan x="19">2 horas</tspan><tspan x="44.5">100%</tspan><tspan x="19" dy="7">25/04/12</tspan><tspan x="44.5">25/04/12</tspan></text></g>
<g id="n1.3.1.1.7.1.1.2" transform="translate(663,678)"><use href="#a1"/><text class="c" y="-1.5">1.3.1.1.7.1.1.2</text><text class="i" x="-11" y="4.7">67</text><text class="t" x="31.5" y="6.2">Equipamentos</text><text class="d" y="13.2"><tspan x="19">2 horas</tspan><tspan x="44.5">100%</tspan><tspan x="19" dy="7">25/04/12</tspan><tspan x="44.5">25/04/12</tspan></text></g>
<g id="n1.3.1.1.7.1.2" transform="translate(663,710)"><use href="#a3"/><text class="c" y="-1.5">1.3.1.1.7.1.2</text><text class="i" x="-17.5" y="4.7">68</text><text class="t" x="31.5" y="6.2">Estimativa de<tspan x="31.5" dy="6.5">investimentos</tspan><tspan x="31.5" dy="6.5">pré-operacionais</tspan></text><text class="d" y="26.2"><tspan x="19">2 horas</tspan><tspan x="44.5">100%</tspan><tspan x="19" dy="7">25/04/12</tspan><tspan x="44.5">25/04/12</tspan></text></g>
<g id="n1.3.1.1.7.1.3" transform="translate(663,754)"><use href="#a2"/><text class="c" y="-1.5">1.3.1.1.7.1.3</text><text class="i" x="-14.2" y="4.7">69</text><text class="t" x="31.5" y="6.2">Estimativa de<tspan x="31.5" dy="6.5">custos fixos</tspan></text><text class="d" y="19.7"><tspan x="19">2 horas</tspan><tspan x="44.5">100%</tspan><tspan x="19" dy="7">25/04/12</tspan><tspan x="44.5">26/04/12</tspan></text></g>
<g id="n1.3.1.1.7.1.4" transform="translate(631,796)"><use href="#a4"/><text class="c" y="-1.5">1.3.1.1.7.1.4</text><text class="i" x="-20.7" y="4.7">70</text><text class="t" x="31.5" y="6.2">Estimativa de<tspan x="31.5" dy="6.5">custos de</tspan><tspan x="31.5" dy="6.5">produtos e</tspan><tspan x="31.5" dy="6.5">serviços</tspan></text><text class="d" y="32.7"><tspan x="19">0,8 dias</tspan><tspan x="44.5">100%</tspan><tspan x="19" dy="7">26/04/12</tspan><tspan x="44.5">26/04/12</tspan></text></g>
<g id="n1.3.1.1.7.1.4.1" transform="translate(596,848)"><use href="#a1"/><text class="c" y="-1.5">1.3.1.1.7.1.4.1</text><text class="i" x="-11" y="4.7">71</text><text class="t" x="31.5" y="6.2">Instrumental</text><text class="d" y="13.2"><tspan x="19">1 hora</tspan><tspan x="44.5">100%</tspan><tspan x="19" dy="7">26/04/12</tspan><tspan x="44.5">26/04/12</tspan></text></g>
<g id="n1.3.1.1.7.1.4.2" transform="translate(665,848)"><use href="#a1"/><text class="c" y="-1.5">1.3.1.1.7.1.4.2</text><text class="i" x="-11" y="4.7">72</text><text class="t" x="31.5" y="6.2">Produtos</text><text class="d" y="13.2"><tspan x="19">4 horas</tspan><tspan x="44.5">100%</tspan><tspan x="19" dy="7">26/04/12</tspan><tspan x="44.5">26/04/12</tspan></text></g>
<g id="n1.3.1.1.7.1.4.3" transform="translate(665,880)"><use href="#a2"/><text class="c" y="-1.5">1.3.1.1.7.1.4.3</text><text class="i" x="-14.2" y="4.7">73</text><text class="t" x="31.5" y="6.2">Serviços<tspan x="31.5" dy="6.5">especializados</tspan></text><text class="d" y="19.7"><tspan x="19">2 horas</tspan><tspan x="44.5">100%</tspan><tspan x="19" dy="7">26/04/12</tspan><tspan x="44.5">26/04/12</tspan></text></g>
<g id="n1.3.1.1.7.1.5" transform="translate(728,633)"><use href="#a3"/><text class="c" y="-1.5">1.3.1.1.7.1.5</text><text class="i" x="-17.5" y="4.7">74</text><text class="t" x="31.5" y="6.2">Estimativa de<tspan x="31.5" dy="6.5">custos de</tspan><tspan x="31.5" dy="6.5">comercialização</tspan></text><text class="d" y="26.2"><tspan x="19">4 horas</tspan><tspan x="44.5">100%</tspan><tspan x="19" dy="7">27/04/12</tspan><tspan x="44.5">27/04/12</tspan></text></g>
<g id="n1.3.1.1.7.1.6" transform="translate(728,676)"><use href="#a3"/><text class="c" y="-1.5">1.3.1.1.7.1.6</text><text class="i" x="-17.5" y="4.7">75</text><text class="t" x="31.5" y="6.2">Estimativa de<tspan x="31.5" dy="6.5">custos com</tspan><tspan x="31.5" dy="6.5">recursos humanos</tspan></text><text class="d" y="26.2"><tspan x="19">8 horas</tspan><tspan x="44.5">100%</tspan><tspan x="19" dy="7">27/04/12</tspan><tspan x="44.5">30/04/12</tspan></text></g>
<g id="n1.3.1.1.7.1.7" transform="translate(728,721)"><use href="#a2"/><text class="c" y="-1.5">1.3.1.1.7.1.7</text><text class="i" x="-14.2" y="4.7">76</text><text class="t" x="31.5" y="6.2">Estimativa de<tspan x="31.5" dy="6.5">depreciações</tspan></text><text class="d" y="19.7"><tspan x="19">1 hora</tspan><tspan x="44.5">100%</tspan><tspan x="19" dy="7">30/04/12</tspan><tspan x="44.5">30/04/12</tspan></text></g>
<g id="n1.3.1.1.7.1.8" transform="translate(728,758)"><use href="#a1"/><text class="c" y="-1.5">1.3.1.1.7.1.8</text><text class="i" x="-11" y="4.7">77</text><text class="t" x="31.5" y="6.2">Capital de giro</text><text class="d" y="13.2"><tspan x="19">4 horas</tspan><tspan x="44.5">100%</tspan><tspan x="19" dy="7">30/04/12</tspan><tspan x="44.5">01/05/12</tspan></text></g>
<g id="n1.3.1.1.7.2" transform="translate(829,593)"><use href="#b1"/><text class="c" y="-1.5">1.3.1.1.7.2</text><text class="i" x="-11" y="4.7">78</text><text class="t" x="33.5" y="6.2">Estrutura de capital</text><text class="d" y="13.2"><tspan x="20">0,5 dias</tspan><tspan x="47.5">100%</tspan><tspan x="20" dy="7">01/05/12</tspan><tspan x="47.5">01/05/12</tspan></text></g>
<g id="n1.3.1.1.7.2.1" transform="translate(797,626)"><use href="#a1"/><text class="c" y="-1.5">1.3.1.1.7.2.1</text><text class="i" x="-11" y="4.7">79</text><text class="t" x="31.5" y="6.2">Capital próprio</text><text class="d" y="13.2"><tspan x="19">2 horas</tspan><tspan x="44.5">100%</tspan><tspan x="19" dy="7">01/05/12</tspan><tspan x="44.5">01/05/12</tspan></text></g>
<g id="n1.3.1.1.7.2.2" transform="translate(863,626)"><use href="#a1"/><text class="c" y="-1.5">1.3.1.1.7.2.2</text><text class="i" x="-11" y="4.7">80</text><text class="t" x="31.5" y="6.2">Financiamentos</text><text class="d" y="13.2"><tspan x="19">2 horas</tspan><tspan x="44.5">100%</tspan><tspan x="19" dy="7">01/05/12</tspan><tspan x="44.5">01/05/12</tspan></text></g>
<g id="n1.3.1.1.7.2.3" transform="translate(863,658)"><use href="#a1"/><text class="c" y="-1.5">1.3.1.1.7.2.3</text><text class="i" x="-11" y="4.7">81</text><text class="t" x="31.5" y="6.2">Fornecedores</text><text class="d" y="13.2"><tspan x="19">3 horas</tspan><tspan x="44.5">100%</tspan><tspan x="19" dy="7">01/05/12</tspan><tspan x="44.5">01/05/12</tspan></text></g>
<g id="n1.3.1.1.7.3" transform="translate(832,694)"><use href="#a2"/><text class="c" y="-1.5">1.3.1.1.7.3</text><text class="i" x="-14.2" y="4.7">82</text><text class="t" x="31.5" y="6.2">Plano de<tspan x="31.5" dy="6.5">resultados</tspan></text><text class="d" y="19.7"><tspan x="19">2,27 dias</tspan><tspan x="44.5">100%</tspan><tspan x="19" dy="7">02/05/12</tspan><tspan x="44.5">04/05/12</tspan></text></g>
<g id="n1.3.1.1.7.3.1" transform="translate(797,732)"><use href="#a2"/><text class="c" y="-1.5">1.3.1.1.7.3.1</text><text class="i" x="-14.2" y="4.7">83</text><text class="t" x="31.5" y="6.2">Simulação e<tspan x="31.5" dy="6.5">cenários</tspan></text><text class="d" y="19.7"><tspan x="19">10 horas</tspan><tspan x="44.5">100%</tspan><tspan x="19" dy="7">02/05/12</tspan><tspan x="44.5">03/05/12</tspan></text></g>
<g id="n1.3.1.1.7.3.2" transform="translate(864,733)"><use href="#a1"/><text class="c" y="-1.5">1.3.1.1.7.3.2</text><text class="i" x="-11" y="4.7">84</text><text class="t" x="31.5" y="6.2">Avaliação de riscos</text><text class="d" y="13.2"><tspan x="19">5 horas</tspan><tspan x="44.5">100%</tspan><tspan x="19" dy="7">03/05/12</tspan><tspan x="44.5">03/05/12</tspan></text></g>
<g id="n1.3.1.1.7.3.3" transform="translate(864,765)"><use href="#a2"/><text class="c" y="-1.5">1.3.1.1.7.3.3</text><text class="i" x="-14.2" y="4.7">85</text><text class="t" x="31.5" y="6.2">Análise da<tspan x="31.5" dy="6.5">viabilidade</tspan></text><text class="d" y="19.7"><tspan x="19">5 horas</tspan><tspan x="44.5">100%</tspan><tspan x="19" dy="7">03/05/12</tspan><tspan x="44.5">04/05/12</tspan></text></g>

<g id="n1.3.2" transform="translate(1030,95)"><use href="#b1"/><text class="c" y="-1.5">1.3.2</text><text class="i" x="-11" y="4.7">86</text><text class="t" x="33.5" y="6.2">Análise Estratégica</text><text class="d" y="13.2"><tspan x="20">4,41 dias</tspan><tspan x="47.5">100%</tspan><tspan x="20" dy="7">04/05/12</tspan><tspan x="47.5">11/05/12</tspan></text></g>
<g id="n1.3.2.1" transform="translate(967,128)"><use href="#a1"/><text class="c" y="-1.5">1.3.2.1</text><text class="i" x="-11" y="4.7">87</text><text class="t" x="31.5" y="6.2">Análise FOFA</text><text class="d" y="13.2"><tspan x="19">1,7 dias</tspan><tspan x="44.5">100%</tspan><tspan x="19" dy="7">04/05/12</tspan><tspan x="44.5">08/05/12</tspan></text></g>
<g id="n1.3.2.1.1" transform="translate(935,162)"><use href="#a2"/><text class="c" y="-1.5">1.3.2.1.1</text><text class="i" x="-14.2" y="4.7">88</text><text class="t" x="31.5" y="6.2">Identificação da<tspan x="31.5" dy="6.5">forças</tspan></text><text class="d" y="19.7"><tspan x="19">3 horas</tspan><tspan x="44.5">100%</tspan><tspan x="19" dy="7">04/05/12</tspan><tspan x="44.5">04/05/12</tspan></text></g>
<g id="n1.3.2.1.2" transform="translate(935,198)"><use href="#a2"/><text class="c" y="-1.5">1.3.2.1.2</text><text class="i" x="-14.2" y="4.7">89</text><text class="t" x="31.5" y="6.2">Identificação das<tspan x="31.5" dy="6.5">fraquezas</tspan></text><text class="d" y="19.7"><tspan x="19">3 horas</tspan><tspan x="44.5">100%</tspan><tspan x="19" dy="7">04/05/12</tspan><tspan x="44.5">07/05/12</tspan></text></g>
<g id="n1.3.2.1.3" transform="translate(1000,162)"><use href="#a2"/><text class="c" y="-1.5">1.3.2.1.3</text><text class="i" x="-14.2" y="4.7">90</text><text class="t" x="31.5" y="6.2">Identificação das<tspan x="31.5" dy="6.5">oportunidades</tspan></text><text class="d" y="19.7"><tspan x="19">4 horas</tspan><tspan x="44.5">100%</tspan><tspan x="19" dy="7">07/05/12</tspan><tspan x="44.5">07/05/12</tspan></text></g>
<g id="n1.3.2.1.4" transform="translate(1000,198)"><use href="#a2"/><text class="c" y="-1.5">1.3.2.1.4</text><text class="i" x="-14.2" y="4.7">91</text><text class="t" x="31.5" y="6.2">Identificação das<tspan x="31.5" dy="6.5">ameaças</tspan></text><text class="d" y="19.7"><tspan x="19">5 horas</tspan><tspan x="44.5">100%</tspan><tspan x="19" dy="7">07/05/12</tspan><tspan x="44.5">08/05/12</tspan></text></g>
<g id="n1.3.2.2" transform="translate(1099,128)"><use href="#a1"/><text class="c" y="-1.5">1.3.2.2</text><text class="i" x="-11" y="4.7">92</text><text class="t" x="31.5" y="6.2">Plano de Ação</text><text class="d" y="13.2"><tspan x="19">2,73 dias</tspan><tspan x="44.5">100%</tspan><tspan x="19" dy="7">08/05/12</tspan><tspan x="44.5">11/05/12</tspan></text></g>
<g id="n1.3.2.2.1" transform="translate(1066,162)"><use href="#a1"/><text class="c" y="-1.5">1.3.2.2.1</text><text class="i" x="-11" y="4.7">93</text><text class="t" x="31.5" y="6.2">Análises das forças</text><text class="d" y="13.2"><tspan x="19">4 horas</tspan><tspan x="44.5">100%</tspan><tspan x="19" dy="7">08/05/12</tspan><tspan x="44.5">08/05/12</tspan></text></g>
<g id="n1.3.2.2.2" transform="translate(1066,193)"><use href="#a2"/><text class="c" y="-1.5">1.3.2.2.2</text><text class="i" x="-14.2" y="4.7">94</text><text class="t" x="31.5" y="6.2">Análise das<tspan x="31.5" dy="6.5">fraquezas</tspan></text><text class="d" y="19.7"><tspan x="19">4 horas</tspan><tspan x="44.5">100%</tspan><tspan x="19" dy="7">08/05/12</tspan><tspan x="44.5">09/05/12</tspan></text></g>
<g id="n1.3.2.2.3" transform="translate(1066,233)"><use href="#a2"/><text class="c" y="-1.5">1.3.2.2.3</text><text class="i" x="-14.2" y="4.7">95</text><text class="t" x="31.5" y="6.2">Análise das<tspan x="31.5" dy="6.5">oportunidades</tspan></text><text class="d" y="19.7"><tspan x="19">4 horas</tspan><tspan x="44.5">100%</tspan><tspan x="19" dy="7">09/05/12</tspan><tspan x="44.5">09/05/12</tspan></text></g>
<g id="n1.3.2.2.4" transform="translate(1133,162)"><use href="#a2"/><text class="c" y="-1.5">1.3.2.2.4</text><text class="i" x="-14.2" y="4.7">96</text><text class="t" x="31.5" y="6.2">Análise das<tspan x="31.5" dy="6.5">ameaças</tspan></text><text class="d" y="19.7"><tspan x="19">4 horas</tspan><tspan x="44.5">100%</tspan><tspan x="19" dy="7">09/05/12</tspan><tspan x="44.5">10/05/12</tspan></text></g>
<g id="n1.3.2.2.5" transform="translate(1133,199)"><use href="#a2"/><text class="c" y="-1.5">1.3.2.2.5</text><text class="i" x="-14.2" y="4.7">97</text><text class="t" x="31.5" y="6.2">Análise das forças<tspan x="31.5" dy="6.5">e fraquezas</tspan></text><text class="d" y="19.7"><tspan x="19">3 horas</tspan><tspan x="44.5">100%</tspan><tspan x="19" dy="7">10/05/12</tspan><tspan x="44.5">10/05/12</tspan></text></g>
<g id="n1.3.2.2.6" transform="translate(1133,237)"><use href="#a3"/><text class="c" y="-1.5">1.3.2.2.6</text><text class="i" x="-17.5" y="4.7">98</text><text class="t" x="31.5" y="6.2">Análise das<tspan x="31.5" dy="6.5">oportunidades e</tspan><tspan x="31.5" dy="6.5">ameaças</tspan></text><text class="d" y="26.2"><tspan x="19">3 horas</tspan><tspan x="44.5">100%</tspan><tspan x="19" dy="7">10/05/12</tspan><tspan x="44.5">11/05/12</tspan></text></g>
<g id="n1.3.2.2.7" transform="translate(1133,282)"><use href="#a4"/><text class="c" y="-1.5">1.3.2.2.7</text><text class="i" x="-20.7" y="4.7">99</text><text class="t" x="31.5" y="6.2">Análise das forças<tspan x="31.5" dy="6.5">e oportunidades x</tspan><tspan x="31.5" dy="6.5">fraquezas e</tspan><tspan x="31.5" dy="6.5">ameaças</tspan></text><text class="d" y="32.7"><tspan x="19">2 horas</tspan><tspan x="44.5">100%</tspan><tspan x="19" dy="7">11/05/12</tspan><tspan x="44.5">11/05/12</tspan></text></g>
<g id="n1.3.3" transform="translate(967,243)"><use href="#a1"/><text class="c" y="-1.5">1.3.3</text><text class="i" x="-11" y="4.7">100</text><text class="t" x="31.5" y="6.2">Sumário Executivo</text><text class="d" y="13.2"><tspan x="19">1,59 dias</tspan><tspan x="44.5">100%</tspan><tspan x="19" dy="7">11/05/12</tspan><tspan x="44.5">15/05/12</tspan></text></g>
<g id="n1.3.3.1" transform="translate(935,275)"><use href="#a3"/><text class="c" y="-1.5">1.3.3.1</text><text class="i" x="-17.5" y="4.7">101</text><text class="t" x="31.5" y="6.2">Consolidação das<tspan x="31.5" dy="6.5">informações,</tspan><tspan x="31.5" dy="6.5">planos e análises</tspan></text><text class="d" y="26.2"><tspan x="19">10 horas</tspan><tspan x="44.5">100%</tspan><tspan x="19" dy="7">11/05/12</tspan><tspan x="44.5">14/05/12</tspan></text></g>
<g id="n1.3.3.2" transform="translate(1001,275)"><use href="#a2"/><text class="c" y="-1.5">1.3.3.2</text><text class="i" x="-14.2" y="4.7">102</text><text class="t" x="31.5" y="6.2">Aprovação do<tspan x="31.5" dy="6.5">Plano de Negócio</tspan></text><text class="d" y="19.7"><tspan x="19">4 horas</tspan><tspan x="44.5">100%</tspan><tspan x="19" dy="7">14/05/12</tspan><tspan x="44.5">15/05/12</tspan></text></g>

<g id="n1.4" class="k" transform="translate(787,902)"><use href="#b2"/><text class="c" y="-1.5">1.4</text><text class="i" x="-14.2" y="4.7">103</text><text class="t" x="33.5" y="6.2">Implementação do<tspan x="33.5" dy="6.5">Negócio</tspan></text><text class="d" y="19.7"><tspan x="20">87,73 dias?</tspan><tspan x="47.5">84%</tspan><tspan x="20" dy="7">15/05/12</tspan><tspan x="47.5">28/09/12</tspan></text></g>
<g id="n1.4.1" transform="translate(718,942)"><use href="#b3"/><text class="c" y="-1.5">1.4.1</text><text class="i" x="-17.5" y="4.7">104</text><text class="t" x="33.5" y="6.2">Constituição<tspan x="33.5" dy="6.5">jurídica da</tspan><tspan x="33.5" dy="6.5">empresa</tspan></text><text class="d" y="26.2"><tspan x="20">29,32 dias</tspan><tspan x="47.5">100%</tspan><tspan x="20" dy="7">15/05/12</tspan><tspan x="47.5">28/06/12</tspan></text></g>
<g id="n1.4.1.1" transform="translate(687,987)"><use href="#a3"/><text class="c" y="-1.5">1.4.1.1</text><text class="i" x="-17.5" y="4.7">105</text><text class="t" x="31.5" y="6.2">Reunião com<tspan x="31.5" dy="6.5">consultoria</tspan><tspan x="31.5" dy="6.5">especializada</tspan></text><text class="d" y="26.2"><tspan x="19">4 horas</tspan><tspan x="44.5">100%</tspan><tspan x="19" dy="7">15/05/12</tspan><tspan x="44.5">15/05/12</tspan></text></g>
<g id="n1.4.1.2" transform="translate(687,1030)"><use href="#a2"/><text class="c" y="-1.5">1.4.1.2</text><text class="i" x="-14.2" y="4.7">106</text><text class="t" x="31.5" y="6.2">Pesquisa Receita<tspan x="31.5" dy="6.5">Federal</tspan></text><text class="d" y="19.7"><tspan x="19">2 horas</tspan><tspan x="44.5">100%</tspan><tspan x="19" dy="7">15/05/12</tspan><tspan x="44.5">15/05/12</tspan></text></g>
<g id="n1.4.1.3" transform="translate(687,1068)"><use href="#a2"/><text class="c" y="-1.5">1.4.1.3</text><text class="i" x="-14.2" y="4.7">107</text><text class="t" x="31.5" y="6.2">Pesquisa Junta<tspan x="31.5" dy="6.5">Comercial</tspan></text><text class="d" y="19.7"><tspan x="19">2 horas</tspan><tspan x="44.5">100%</tspan><tspan x="19" dy="7">15/05/12</tspan><tspan x="44.5">16/05/12</tspan></text></g>
<g id="n1.4.1.4" transform="translate(752,987)"><use href="#a2"/><text class="c" y="-1.5">1.4.1.4</text><text class="i" x="-14.2" y="4.7">108</text><text class="t" x="31.5" y="6.2">Providência das<tspan x="31.5" dy="6.5">documentações</tspan></text><text class="d" y="19.7"><tspan x="19">16 horas</tspan><tspan x="44.5">100%</tspan><tspan x="19" dy="7">16/05/12</tspan><tspan x="44.5">18/05/12</tspan></text></g>
<g id="n1.4.1.5" transform="translate(752,1025)"><use href="#a3"/><text class="c" y="-1.5">1.4.1.5</text><text class="i" x="-17.5" y="4.7">109</text><text class="t" x="31.5" y="6.2">Encaminhamento<tspan x="31.5" dy="6.5">das</tspan><tspan x="31.5" dy="6.5">documentações</tspan></text><text class="d" y="26.2"><tspan x="19">4 horas</tspan><tspan x="44.5">100%</tspan><tspan x="19" dy="7">18/05/12</tspan><tspan x="44.5">18/05/12</tspan></text></g>
<g id="n1.4.1.6" transform="translate(752,1069)"><use href="#a2"/><text class="c" y="-1.5">1.4.1.6</text><text class="i" x="-14.2" y="4.7">110</text><text class="t" x="31.5" y="6.2">Processo<tspan x="31.5" dy="6.5">burocrático</tspan></text><text class="d" y="19.7"><tspan x="19">224 horas</tspan><tspan x="44.5">100%</tspan><tspan x="19" dy="7">18/05/12</tspan><tspan x="44.5">27/06/12</tspan></text></g>
<g id="n1.4.1.7" transform="translate(752,1107)"><use href="#a2"/><text class="c" y="-1.5">1.4.1.7</text><text class="i" x="-14.2" y="4.7">111</text><text class="t" x="31.5" y="6.2">Coleta das<tspan x="31.5" dy="6.5">documentações</tspan></text><text class="d" y="19.7"><tspan x="19">6 horas</tspan><tspan x="44.5">100%</tspan><tspan x="19" dy="7">27/06/12</tspan><tspan x="44.5">28/06/12</tspan></text></g>

<g id="n1.4.2" transform="translate(447,1129)"><use href="#a2"/><text class="c" y="-1.5">1.4.2</text><text class="i" x="-14.2" y="4.7">112</text><text class="t" x="31.5" y="6.2">Estrutura<tspan x="31.5" dy="6.5">Operacional</tspan></text><text class="d" y="19.7"><tspan x="19">36,16 dias</tspan><tspan x="44.5">100%</tspan><tspan x="19" dy="7">29/06/12</tspan><tspan x="44.5">21/08/12</tspan></text></g>
<g id="n1.4.2.1" transform="translate(310,1168)"><use href="#b3"/><text class="c" y="-1.5">1.4.2.1</text><text class="i" x="-17.5" y="4.7">113</text><text class="t" x="33.5" y="6.2">Definição e<tspan x="33.5" dy="6.5">especificação dos</tspan><tspan x="33.5" dy="6.5">recursos</tspan></text><text class="d" y="26.2"><tspan x="20">4,77 dias</tspan><tspan x="47.5">100%</tspan><tspan x="20" dy="7">29/06/12</tspan><tspan x="47.5">05/07/12</tspan></text></g>
<g id="n1.4.2.1.1" transform="translate(268,1213)"><use href="#b3"/><text class="c" y="-1.5">1.4.2.1.1</text><text class="i" x="-17.5" y="4.7">114</text><text class="t" x="33.5" y="6.2">Pesquisa Vigilância<tspan x="33.5" dy="6.5">Sanitária Municipal</tspan><tspan x="33.5" dy="6.5">e Estadual</tspan></text><text class="d" y="26.2"><tspan x="20">0,69 dias</tspan><tspan x="47.5">100%</tspan><tspan x="20" dy="7">28/06/12</tspan><tspan x="47.5">29/06/12</tspan></text></g>
<g id="n1.4.2.1.1.1" transform="translate(280,1258)"><use href="#a3"/><text class="c" y="-1.5">1.4.2.1.1.1</text><text class="i" x="-17.5" y="4.7">115</text><text class="t" x="31.5" y="6.2">Pesquisa de<tspan x="31.5" dy="6.5">espécies e</tspan><tspan x="31.5" dy="6.5">regulamentações.</tspan></text><text class="d" y="26.2"><tspan x="19">6 horas</tspan><tspan x="44.5">100%</tspan><tspan x="19" dy="7">28/06/12</tspan><tspan x="44.5">29/06/12</tspan></text></g>
<g id="n1.4.2.1.2" transform="translate(380,1213)"><use href="#b3"/><text class="c" y="-1.5">1.4.2.1.2</text><text class="i" x="-17.5" y="4.7">116</text><text class="t" x="33.5" y="6.2">Definição e<tspan x="33.5" dy="6.5">especificação das</tspan><tspan x="33.5" dy="6.5">necessidades</tspan></text><text class="d" y="26.2"><tspan x="20">4,09 dias</tspan><tspan x="47.5">100%</tspan><tspan x="20" dy="7">29/06/12</tspan><tspan x="47.5">05/07/12</tspan></text></g>
<g id="n1.4.2.1.2.1" transform="translate(350,1258)"><use href="#a1"/><text class="c" y="-1.5">1.4.2.1.2.1</text><text class="i" x="-11" y="4.7">117</text><text class="t" x="31.5" y="6.2">Definição do Imóvel</text><text class="d" y="13.2"><tspan x="19">8 horas</tspan><tspan x="44.5">100%</tspan><tspan x="19" dy="7">29/06/12</tspan><tspan x="44.5">29/06/12</tspan></text></g>
<g id="n1.4.2.1.2.2" transform="translate(350,1290)"><use href="#a2"/><text class="c" y="-1.5">1.4.2.1.2.2</text><text class="i" x="-14.2" y="4.7">118</text><text class="t" x="31.5" y="6.2">Definição dos<tspan x="31.5" dy="6.5">Móveis</tspan></text><text class="d" y="19.7"><tspan x="19">8 horas</tspan><tspan x="44.5">100%</tspan><tspan x="19" dy="7">29/06/12</tspan><tspan x="44.5">02/07/12</tspan></text></g>
<g id="n1.4.2.1.2.3" transform="translate(350,1328)"><use href="#a2"/><text class="c" y="-1.5">1.4.2.1.2.3</text><text class="i" x="-14.2" y="4.7">119</text><text class="t" x="31.5" y="6.2">Definição dos<tspan x="31.5" dy="6.5">Equipamentos</tspan></text><text class="d" y="19.7"><tspan x="19">4 horas</tspan><tspan x="44.5">100%</tspan><tspan x="19" dy="7">02/07/12</tspan><tspan x="44.5">02/07/12</tspan></text></g>
<g id="n1.4.2.1.2.4" transform="translate(414,1258)"><use href="#a2"/><text class="c" y="-1.5">1.4.2.1.2.4</text><text class="i" x="-14.2" y="4.7">120</text><text class="t" x="31.5" y="6.2">Definição dos<tspan x="31.5" dy="6.5">Produtos</tspan></text><text class="d" y="19.7"><tspan x="19">12 horas</tspan><tspan x="44.5">100%</tspan><tspan x="19" dy="7">03/07/12</tspan><tspan x="44.5">04/07/12</tspan></text></g>
<g id="n1.4.2.1.2.5" transform="translate(414,1296)"><use href="#a3"/><text class="c" y="-1.5">1.4.2.1.2.5</text><text class="i" x="-17.5" y="4.7">121</text><text class="t" x="31.5" y="6.2">Definição dos<tspan x="31.5" dy="6.5">Prestadores de</tspan><tspan x="31.5" dy="6.5">serviços</tspan></text><text class="d" y="26.2"><tspan x="19">2 horas</tspan><tspan x="44.5">100%</tspan><tspan x="19" dy="7">04/07/12</tspan><tspan x="44.5">04/07/12</tspan></text></g>
<g id="n1.4.2.1.2.6" transform="translate(414,1341)"><use href="#a2"/><text class="c" y="-1.5">1.4.2.1.2.6</text><text class="i" x="-14.2" y="4.7">122</text><text class="t" x="31.5" y="6.2">Definição dos<tspan x="31.5" dy="6.5">Veículos</tspan></text><text class="d" y="19.7"><tspan x="19">2 horas</tspan><tspan x="44.5">100%</tspan><tspan x="19" dy="7">04/07/12</tspan><tspan x="44.5">05/07/12</tspan></text></g>
<g id="n1.4.2.1.2.7" transform="translate(414,1378)"><use href="#a3"/><text class="c" y="-1.5">1.4.2.1.2.7</text><text class="i" x="-17.5" y="4.7">123</text><text class="t" x="31.5" y="6.2">Definição da<tspan x="31.5" dy="6.5">qualificação de</tspan><tspan x="31.5" dy="6.5">pessoal</tspan></text><text class="d" y="26.2"><tspan x="19">4 horas</tspan><tspan x="44.5">100%</tspan><tspan x="19" dy="7">05/07/12</tspan><tspan x="44.5">05/07/12</tspan></text></g>

<g id="n1.4.2.2" transform="translate(585,1168)"><use href="#b3"/><text class="c" y="-1.5">1.4.2.2</text><text class="i" x="-17.5" y="4.7">124</text><text class="t" x="33.5" y="6.2">Aquisições e<tspan x="33.5" dy="6.5">contratações dos</tspan><tspan x="33.5" dy="6.5">recursos</tspan></text><text class="d" y="26.2"><tspan x="20">33,41 dias</tspan><tspan x="47.5">100%</tspan><tspan x="20" dy="7">05/07/12</tspan><tspan x="47.5">27/08/12</tspan></text></g>
<g id="n1.4.2.2.1" transform="translate(516,1213)"><use href="#b1"/><text class="c" y="-1.5">1.4.2.2.1</text><text class="i" x="-11" y="4.7">125</text><text class="t" x="33.5" y="6.2">Imóvel</text><text class="d" y="13.2"><tspan x="20">15,75 dias</tspan><tspan x="47.5">100%</tspan><tspan x="20" dy="7">05/07/12</tspan><tspan x="47.5">26/07/12</tspan></text></g>
<g id="n1.4.2.2.1.1" transform="translate(485,1246)"><use href="#a2"/><text class="c" y="-1.5">1.4.2.2.1.1</text><text class="i" x="-14.2" y="4.7">126</text><text class="t" x="31.5" y="6.2">Pesquisa junto a<tspan x="31.5" dy="6.5">imobiliárias</tspan></text><text class="d" y="19.7"><tspan x="19">8 horas</tspan><tspan x="44.5">100%</tspan><tspan x="19" dy="7">05/07/12</tspan><tspan x="44.5">06/07/12</tspan></text></g>
<g id="n1.4.2.2.1.2" transform="translate(485,1283)"><use href="#a2"/><text class="c" y="-1.5">1.4.2.2.1.2</text><text class="i" x="-14.2" y="4.7">127</text><text class="t" x="31.5" y="6.2">Visitação dos<tspan x="31.5" dy="6.5">potenciais espaços</tspan></text><text class="d" y="19.7"><tspan x="19">8 horas</tspan><tspan x="44.5">100%</tspan><tspan x="19" dy="7">06/07/12</tspan><tspan x="44.5">09/07/12</tspan></text></g>
<g id="n1.4.2.2.1.3" transform="translate(485,1322)"><use href="#a2"/><text class="c" y="-1.5">1.4.2.2.1.3</text><text class="i" x="-14.2" y="4.7">128</text><text class="t" x="31.5" y="6.2">Análise de<tspan x="31.5" dy="6.5">viabilidade</tspan></text><text class="d" y="19.7"><tspan x="19">6 horas</tspan><tspan x="44.5">100%</tspan><tspan x="19" dy="7">09/07/12</tspan><tspan x="44.5">10/07/12</tspan></text></g>
<g id="n1.4.2.2.1.4" transform="translate(550,1246)"><use href="#a3"/><text class="c" y="-1.5">1.4.2.2.1.4</text><text class="i" x="-17.5" y="4.7">129</text><text class="t" x="31.5" y="6.2">Apresentação dos<tspan x="31.5" dy="6.5">espaços aos</tspan><tspan x="31.5" dy="6.5">sócios</tspan></text><text class="d" y="26.2"><tspan x="19">4 horas</tspan><tspan x="44.5">100%</tspan><tspan x="19" dy="7">10/07/12</tspan><tspan x="44.5">10/07/12</tspan></text></g>
<g id="n1.4.2.2.1.5" transform="translate(550,1290)"><use href="#a1"/><text class="c" y="-1.5">1.4.2.2.1.5</text><text class="i" x="-11" y="4.7">130</text><text class="t" x="31.5" y="6.2">Visitação</text><text class="d" y="13.2"><tspan x="19">8 horas</tspan><tspan x="44.5">100%</tspan><tspan x="19" dy="7">10/07/12</tspan><tspan x="44.5">11/07/12</tspan></text></g>
<g id="n1.4.2.2.1.6" transform="translate(550,1320)"><use href="#a2"/><text class="c" y="-1.5">1.4.2.2.1.6</text><text class="i" x="-14.2" y="4.7">131</text><text class="t" x="31.5" y="6.2">Contratação do<tspan x="31.5" dy="6.5">espaço</tspan></text><text class="d" y="19.7"><tspan x="19">3 horas</tspan><tspan x="44.5">100%</tspan><tspan x="19" dy="7">11/07/12</tspan><tspan x="44.5">11/07/12</tspan></text></g>
<g id="n1.4.2.2.1.7" transform="translate(550,1358)"><use href="#a2"/><text class="c" y="-1.5">1.4.2.2.1.7</text><text class="i" x="-14.2" y="4.7">132</text><text class="t" x="31.5" y="6.2">Reforma e<tspan x="31.5" dy="6.5">instalações</tspan></text><text class="d" y="19.7"><tspan x="19">12 dias</tspan><tspan x="44.5">100%</tspan><tspan x="19" dy="7">11/07/12</tspan><tspan x="44.5">26/07/12</tspan></text></g>
<g id="n1.4.2.2.2" transform="translate(519,1403)"><use href="#b1"/><text class="c" y="-1.5">1.4.2.2.2</text><text class="i" x="-11" y="4.7">133</text><text class="t" x="33.5" y="6.2">Móveis</text><text class="d" y="13.2"><tspan x="20">17,84 dias</tspan><tspan x="47.5">100%</tspan><tspan x="20" dy="7">11/07/12</tspan><tspan x="47.5">06/08/12</tspan></text></g>
<g id="n1.4.2.2.2.1" transform="translate(488,1435)"><use href="#a2"/><text class="c" y="-1.5">1.4.2.2.2.1</text><text class="i" x="-14.2" y="4.7">134</text><text class="t" x="31.5" y="6.2">Identificação de<tspan x="31.5" dy="6.5">fornecedores</tspan></text><text class="d" y="19.7"><tspan x="19">6 horas</tspan><tspan x="44.5">100%</tspan><tspan x="19" dy="7">11/07/12</tspan><tspan x="44.5">12/07/12</tspan></text></g>
<g id="n1.4.2.2.2.2" transform="translate(488,1473)"><use href="#a2"/><text class="c" y="-1.5">1.4.2.2.2.2</text><text class="i" x="-14.2" y="4.7">135</text><text class="t" x="31.5" y="6.2">Análise de<tspan x="31.5" dy="6.5">melhores opções</tspan></text><text class="d" y="19.7"><tspan x="19">3 horas</tspan><tspan x="44.5">100%</tspan><tspan x="19" dy="7">12/07/12</tspan><tspan x="44.5">12/07/12</tspan></text></g>
<g id="n1.4.2.2.2.3" transform="translate(554,1435)"><use href="#a1"/><text class="c" y="-1.5">1.4.2.2.2.3</text><text class="i" x="-11" y="4.7">136</text><text class="t" x="31.5" y="6.2">Aquisição</text><text class="d" y="13.2"><tspan x="19">16 horas</tspan><tspan x="44.5">100%</tspan><tspan x="19" dy="7">12/07/12</tspan><tspan x="44.5">16/07/12</tspan></text></g>
<g id="n1.4.2.2.2.4" transform="translate(554,1467)"><use href="#a1"/><text class="c" y="-1.5">1.4.2.2.2.4</text><text class="i" x="-11" y="4.7">137</text><text class="t" x="31.5" y="6.2">Entrega</text><text class="d" y="13.2"><tspan x="19">15 dias</tspan><tspan x="44.5">100%</tspan><tspan x="19" dy="7">16/07/12</tspan><tspan x="44.5">06/08/12</tspan></text></g>
<g id="n1.4.2.2.3" transform="translate(521,1516)"><use href="#a1"/><text class="c" y="-1.5">1.4.2.2.3</text><text class="i" x="-11" y="4.7">138</text><text class="t" x="31.5" y="6.2">Equipamentos</text><text class="d" y="13.2"><tspan x="19">17,5 dias</tspan><tspan x="44.5">100%</tspan><tspan x="19" dy="7">16/07/12</tspan><tspan x="44.5">13/08/12</tspan></text></g>
<g id="n1.4.2.2.3.1" transform="translate(488,1548)"><use href="#a2"/><text class="c" y="-1.5">1.4.2.2.3.1</text><text class="i" x="-14.2" y="4.7">139</text><text class="t" x="31.5" y="6.2">Identificação de<tspan x="31.5" dy="6.5">fornecedores</tspan></text><text class="d" y="19.7"><tspan x="19">6 horas</tspan><tspan x="44.5">100%</tspan><tspan x="19" dy="7">16/07/12</tspan><tspan x="44.5">17/07/12</tspan></text></g>
<g id="n1.4.2.2.3.2" transform="translate(488,1587)"><use href="#a3"/><text class="c" y="-1.5">1.4.2.2.3.2</text><text class="i" x="-17.5" y="4.7">140</text><text class="t" x="31.5" y="6.2">Análise de<tspan x="31.5" dy="6.5">requisitos e</tspan><tspan x="31.5" dy="6.5">especificações</tspan></text><text class="d" y="26.2"><tspan x="19">2 horas</tspan><tspan x="44.5">100%</tspan><tspan x="19" dy="7">17/07/12</tspan><tspan x="44.5">17/07/12</tspan></text></g>
<g id="n1.4.2.2.3.3" transform="translate(554,1548)"><use href="#a2"/><text class="c" y="-1.5">1.4.2.2.3.3</text><text class="i" x="-14.2" y="4.7">141</text><text class="t" x="31.5" y="6.2">Análise de<tspan x="31.5" dy="6.5">melhores opções</tspan></text><text class="d" y="19.7"><tspan x="19">2 horas</tspan><tspan x="44.5">100%</tspan><tspan x="19" dy="7">17/07/12</tspan><tspan x="44.5">18/07/12</tspan></text></g>
<g id="n1.4.2.2.3.4" transform="translate(554,1587)"><use href="#a1"/><text class="c" y="-1.5">1.4.2.2.3.4</text><text class="i" x="-11" y="4.7">142</text><text class="t" x="31.5" y="6.2">Aquisição</text><text class="d" y="13.2"><tspan x="19">12 horas</tspan><tspan x="44.5">100%</tspan><tspan x="19" dy="7">18/07/12</tspan><tspan x="44.5">19/07/12</tspan></text></g>
<g id="n1.4.2.2.3.5" transform="translate(554,1618)"><use href="#a1"/><text class="c" y="-1.5">1.4.2.2.3.5</text><text class="i" x="-11" y="4.7">143</text><text class="t" x="31.5" y="6.2">Entrega</text><text class="d" y="13.2"><tspan x="19">15 dias</tspan><tspan x="44.5">100%</tspan><tspan x="19" dy="7">19/07/12</tspan><tspan x="44.5">13/08/12</tspan></text></g>
<g id="n1.4.2.2.4" transform="translate(652,1213)"><use href="#b1"/><text class="c" y="-1.5">1.4.2.2.4</text><text class="i" x="-11" y="4.7">144</text><text class="t" x="33.5" y="6.2">Produtos</text><text class="d" y="13.2"><tspan x="20">24,32 dias</tspan><tspan x="47.5">100%</tspan><tspan x="20" dy="7">19/07/12</tspan><tspan x="47.5">27/08/12</tspan></text></g>
<g id="n1.4.2.2.4.1" transform="translate(620,1246)"><use href="#a2"/><text class="c" y="-1.5">1.4.2.2.4.1</text><text class="i" x="-14.2" y="4.7">145</text><text class="t" x="31.5" y="6.2">Identificação de<tspan x="31.5" dy="6.5">fornecedores</tspan></text><text class="d" y="19.7"><tspan x="19">40 horas</tspan><tspan x="44.5">100%</tspan><tspan x="19" dy="7">19/07/12</tspan><tspan x="44.5">27/07/12</tspan></text></g>
<g id="n1.4.2.2.4.2" transform="translate(620,1283)"><use href="#a3"/><text class="c" y="-1.5">1.4.2.2.4.2</text><text class="i" x="-17.5" y="4.7">146</text><text class="t" x="31.5" y="6.2">Análise de<tspan x="31.5" dy="6.5">requisitos e</tspan><tspan x="31.5" dy="6.5">especificações</tspan></text><text class="d" y="26.2"><tspan x="19">6 horas</tspan><tspan x="44.5">100%</tspan><tspan x="19" dy="7">27/07/12</tspan><tspan x="44.5">30/07/12</tspan></text></g>
<g id="n1.4.2.2.4.3" transform="translate(686,1246)"><use href="#a2"/><text class="c" y="-1.5">1.4.2.2.4.3</text><text class="i" x="-14.2" y="4.7">147</text><text class="t" x="31.5" y="6.2">Análise de<tspan x="31.5" dy="6.5">melhores opções</tspan></text><text class="d" y="19.7"><tspan x="19">4 horas</tspan><tspan x="44.5">100%</tspan><tspan x="19" dy="7">30/07/12</tspan><tspan x="44.5">30/07/12</tspan></text></g>
<g id="n1.4.2.2.4.4" transform="translate(686,1284)"><use href="#a1"/><text class="c" y="-1.5">1.4.2.2.4.4</text><text class="i" x="-11" y="4.7">148</text><text class="t" x="31.5" y="6.2">Aquisições</text><text class="d" y="13.2"><tspan x="19">24 horas</tspan><tspan x="44.5">100%</tspan><tspan x="19" dy="7">30/07/12</tspan><tspan x="44.5">02/08/12</tspan></text></g>
<g id="n1.4.2.2.4.5" transform="translate(686,1316)"><use href="#a1"/><text class="c" y="-1.5">1.4.2.2.4.5</text><text class="i" x="-11" y="4.7">149</text><text class="t" x="31.5" y="6.2">Entrega</text><text class="d" y="13.2"><tspan x="19">15 dias</tspan><tspan x="44.5">100%</tspan><tspan x="19" dy="7">02/08/12</tspan><tspan x="44.5">27/08/12</tspan></text></g>
<g id="n1.4.2.2.5" transform="translate(653,1352)"><use href="#a2"/><text class="c" y="-1.5">1.4.2.2.5</text><text class="i" x="-14.2" y="4.7">150</text><text class="t" x="31.5" y="6.2">Prestadores de<tspan x="31.5" dy="6.5">serviços</tspan></text><text class="d" y="19.7"><tspan x="19">3,41 dias</tspan><tspan x="44.5">100%</tspan><tspan x="19" dy="7">02/08/12</tspan><tspan x="44.5">08/08/12</tspan></text></g>
<g id="n1.4.2.2.5.1" transform="translate(620,1391)"><use href="#a2"/><text class="c" y="-1.5">1.4.2.2.5.1</text><text class="i" x="-14.2" y="4.7">151</text><text class="t" x="31.5" y="6.2">Identificação de<tspan x="31.5" dy="6.5">fornecedores</tspan></text><text class="d" y="19.7"><tspan x="19">12 horas</tspan><tspan x="44.5">100%</tspan><tspan x="19" dy="7">02/08/12</tspan><tspan x="44.5">06/08/12</tspan></text></g>
<g id="n1.4.2.2.5.2" transform="translate(620,1429)"><use href="#a3"/><text class="c" y="-1.5">1.4.2.2.5.2</text><text class="i" x="-17.5" y="4.7">152</text><text class="t" x="31.5" y="6.2">Análise de<tspan x="31.5" dy="6.5">requisitos e</tspan><tspan x="31.5" dy="6.5">especificações</tspan></text><text class="d" y="26.2"><tspan x="19">2 horas</tspan><tspan x="44.5">100%</tspan><tspan x="19" dy="7">06/08/12</tspan><tspan x="44.5">06/08/12</tspan></text></g>
<g id="n1.4.2.2.5.3" transform="translate(686,1391)"><use href="#a2"/><text class="c" y="-1.5">1.4.2.2.5.3</text><text class="i" x="-14.2" y="4.7">153</text><text class="t" x="31.5" y="6.2">Análise de<tspan x="31.5" dy="6.5">melhores opções</tspan></text><text class="d" y="19.7"><tspan x="19">6 horas</tspan><tspan x="44.5">100%</tspan><tspan x="19" dy="7">06/08/12</tspan><tspan x="44.5">07/08/12</tspan></text></g>
<g id="n1.4.2.2.5.4" transform="translate(718,1433)"><use href="#a1"/><text class="c" y="-1.5">1.4.2.2.5.4</text><text class="i" x="-11" y="4.7">154</text><text class="t" x="31.5" y="6.2">Contratação</text><text class="d" y="13.2"><tspan x="19">1,14 dias</tspan><tspan x="44.5">100%</tspan><tspan x="19" dy="7">07/08/12</tspan><tspan x="44.5">08/08/12</tspan></text></g>
<g id="n1.4.2.2.5.4.1" transform="translate(687,1466)"><use href="#a1"/><text class="c" y="-1.5">1.4.2.2.5.4.1</text><text class="i" x="-11" y="4.7">155</text><text class="t" x="31.5" y="6.2">Transportadora</text><text class="d" y="13.2"><tspan x="19">2 horas</tspan><tspan x="44.5">100%</tspan><tspan x="19" dy="7">07/08/12</tspan><tspan x="44.5">07/08/12</tspan></text></g>
<g id="n1.4.2.2.5.4.2" transform="translate(687,1498)"><use href="#a2"/><text class="c" y="-1.5">1.4.2.2.5.4.2</text><text class="i" x="-14.2" y="4.7">156</text><text class="t" x="31.5" y="6.2">Locação de<tspan x="31.5" dy="6.5">veículos</tspan></text><text class="d" y="19.7"><tspan x="19">1 hora</tspan><tspan x="44.5">100%</tspan><tspan x="19" dy="7">07/08/12</tspan><tspan x="44.5">07/08/12</tspan></text></g>
<g id="n1.4.2.2.5.4.3" transform="translate(752,1466)"><use href="#a2"/><text class="c" y="-1.5">1.4.2.2.5.4.3</text><text class="i" x="-14.2" y="4.7">157</text><text class="t" x="31.5" y="6.2">Limpeza e<tspan x="31.5" dy="6.5">Conservação</tspan></text><text class="d" y="19.7"><tspan x="19">2 horas</tspan><tspan x="44.5">100%</tspan><tspan x="19" dy="7">07/08/12</tspan><tspan x="44.5">08/08/12</tspan></text></g>
<g id="n1.4.2.2.5.4.4" transform="translate(752,1504)"><use href="#a1"/><text class="c" y="-1.5">1.4.2.2.5.4.4</text><text class="i" x="-11" y="4.7">158</text><text class="t" x="31.5" y="6.2">Serviços Contábeis</text><text class="d" y="13.2"><tspan x="19">2 horas</tspan><tspan x="44.5">100%</tspan><tspan x="19" dy="7">08/08/12</tspan><tspan x="44.5">08/08/12</tspan></text></g>
<g id="n1.4.2.2.5.4.5" transform="translate(752,1536)"><use href="#a1"/><text class="c" y="-1.5">1.4.2.2.5.4.5</text><text class="i" x="-11" y="4.7">159</text><text class="t" x="31.5" y="6.2">Serviços Jurídicos</text><text class="d" y="13.2"><tspan x="19">2 horas</tspan><tspan x="44.5">100%</tspan><tspan x="19" dy="7">08/08/12</tspan><tspan x="44.5">08/08/12</tspan></text></g>
<g id="n1.4.2.2.6" transform="translate(719,1572)"><use href="#a3"/><text class="c" y="-1.5">1.4.2.2.6</text><text class="i" x="-17.5" y="4.7">160</text><text class="t" x="31.5" y="6.2">Estrutura de<tspan x="31.5" dy="6.5">Recursos</tspan><tspan x="31.5" dy="6.5">Humanos</tspan></text><text class="d" y="26.2"><tspan x="19">6,14 dias</tspan><tspan x="44.5">100%</tspan><tspan x="19" dy="7">08/08/12</tspan><tspan x="44.5">17/08/12</tspan></text></g>
<g id="n1.4.2.2.6.1" transform="translate(654,1618)"><use href="#a2"/><text class="c" y="-1.5">1.4.2.2.6.1</text><text class="i" x="-14.2" y="4.7">161</text><text class="t" x="31.5" y="6.2">Recrutamento e<tspan x="31.5" dy="6.5">seleção</tspan></text><text class="d" y="19.7"><tspan x="19">4,32 dias</tspan><tspan x="44.5">100%</tspan><tspan x="19" dy="7">08/08/12</tspan><tspan x="44.5">15/08/12</tspan></text></g>
<g id="n1.4.2.2.6.1.1" transform="translate(620,1657)"><use href="#a1"/><text class="c" y="-1.5">1.4.2.2.6.1.1</text><text class="i" x="-11" y="4.7">162</text><text class="t" x="31.5" y="6.2">Definição do perfil</text><text class="d" y="13.2"><tspan x="19">6 horas</tspan><tspan x="44.5">100%</tspan><tspan x="19" dy="7">08/08/12</tspan><tspan x="44.5">09/08/12</tspan></text></g>
<g id="n1.4.2.2.6.1.2" transform="translate(620,1689)"><use href="#a2"/><text class="c" y="-1.5">1.4.2.2.6.1.2</text><text class="i" x="-14.2" y="4.7">163</text><text class="t" x="31.5" y="6.2">Anúncio e<tspan x="31.5" dy="6.5">divulgação</tspan></text><text class="d" y="19.7"><tspan x="19">4 horas</tspan><tspan x="44.5">100%</tspan><tspan x="19" dy="7">09/08/12</tspan><tspan x="44.5">09/08/12</tspan></text></g>
<g id="n1.4.2.2.6.1.3" transform="translate(687,1657)"><use href="#a1"/><text class="c" y="-1.5">1.4.2.2.6.1.3</text><text class="i" x="-11" y="4.7">164</text><text class="t" x="31.5" y="6.2">Entrevista inicial</text><text class="d" y="13.2"><tspan x="19">16 horas</tspan><tspan x="44.5">100%</tspan><tspan x="19" dy="7">09/08/12</tspan><tspan x="44.5">13/08/12</tspan></text></g>
<g id="n1.4.2.2.6.1.4" transform="translate(687,1689)"><use href="#a1"/><text class="c" y="-1.5">1.4.2.2.6.1.4</text><text class="i" x="-11" y="4.7">165</text><text class="t" x="31.5" y="6.2">Testes</text><text class="d" y="13.2"><tspan x="19">4 horas</tspan><tspan x="44.5">100%</tspan><tspan x="19" dy="7">13/08/12</tspan><tspan x="44.5">14/08/12</tspan></text></g>
<g id="n1.4.2.2.6.1.5" transform="translate(687,1721)"><use href="#a1"/><text class="c" y="-1.5">1.4.2.2.6.1.5</text><text class="i" x="-11" y="4.7">166</text><text class="t" x="31.5" y="6.2">Entrevista final</text><text class="d" y="13.2"><tspan x="19">8 horas</tspan><tspan x="44.5">100%</tspan><tspan x="19" dy="7">14/08/12</tspan><tspan x="44.5">15/08/12</tspan></text></g>
<g id="n1.4.2.2.6.2" transform="translate(753,1618)"><use href="#a1"/><text class="c" y="-1.5">1.4.2.2.6.2</text><text class="i" x="-11" y="4.7">167</text><text class="t" x="31.5" y="6.2">Capacitação</text><text class="d" y="13.2"><tspan x="19">12 horas</tspan><tspan x="44.5">100%</tspan><tspan x="19" dy="7">15/08/12</tspan><tspan x="44.5">16/08/12</tspan></text></g>
<g id="n1.4.2.2.6.3" transform="translate(753,1650)"><use href="#a2"/><text class="c" y="-1.5">1.4.2.2.6.3</text><text class="i" x="-14.2" y="4.7">168</text><text class="t" x="31.5" y="6.2">Definição de<tspan x="31.5" dy="6.5">escalas e horários</tspan></text><text class="d" y="19.7"><tspan x="19">4 horas</tspan><tspan x="44.5">100%</tspan><tspan x="19" dy="7">16/08/12</tspan><tspan x="44.5">17/08/12</tspan></text></g>
<g id="n1.4.3" transform="translate(745,1693)"><use href="#a2"/><text class="c" y="-1.5">1.4.3</text><text class="i" x="-14.2" y="4.7">169</text><text class="t" x="31.5" y="6.2">Organização dos<tspan x="31.5" dy="6.5">espaços</tspan></text><text class="d" y="19.7"><tspan x="19">2,73 dias</tspan><tspan x="44.5">25%</tspan><tspan x="19" dy="7">27/08/12</tspan><tspan x="44.5">30/08/12</tspan></text></g>
<g id="n1.4.3.1" transform="translate(756,1732)"><use href="#a2"/><text class="c" y="-1.5">1.4.3.1</text><text class="i" x="-14.2" y="4.7">170</text><text class="t" x="31.5" y="6.2">Organização dos<tspan x="31.5" dy="6.5">espaços</tspan></text><text class="d" y="19.7"><tspan x="19">24 horas</tspan><tspan x="44.5">25%</tspan><tspan x="19" dy="7">27/08/12</tspan><tspan x="44.5">30/08/12</tspan></text></g>

<g id="n1.4.4" transform="translate(863,941)"><use href="#b2"/><text class="c" y="-1.5">1.4.4</text><text class="i" x="-14.2" y="4.7">171</text><text class="t" x="33.5" y="6.2">Avaliação Vigilância<tspan x="33.5" dy="6.5">sanitária</tspan></text><text class="d" y="19.7"><tspan x="20">3,73 dias?</tspan><tspan x="47.5">0%</tspan><tspan x="20" dy="7">27/08/12</tspan><tspan x="47.5">31/08/12</tspan></text></g>
<g id="n1.4.4.1" transform="translate(820,981)"><use href="#b2"/><text class="c" y="-1.5">1.4.4.1</text><text class="i" x="-14.2" y="4.7">172</text><text class="t" x="33.5" y="6.2">Avaliação Vigilância<tspan x="33.5" dy="6.5">Sanitária</tspan></text><text class="d" y="19.7"><tspan x="20">1 dia?</tspan><tspan x="47.5">0%</tspan><tspan x="20" dy="7">30/08/12</tspan><tspan x="47.5">31/08/12</tspan></text></g>
<g id="n1.4.4.1.1" transform="translate(833,1020)"><use href="#a1"/><text class="c" y="-1.5">1.4.4.1.1</text><text class="i" x="-11" y="4.7">173</text><text class="t" x="31.5" y="6.2">New Task</text><text class="d" y="13.2"><tspan x="19">1 dia?</tspan><tspan x="44.5">0%</tspan><tspan x="19" dy="7">30/08/12</tspan><tspan x="44.5">31/08/12</tspan></text></g>
<g id="n1.4.4.2" transform="translate(898,981)"><use href="#b2"/><text class="c" y="-1.5">1.4.4.2</text><text class="i" x="-14.2" y="4.7">174</text><text class="t" x="33.5" y="6.2">Avaliação Vigilância<tspan x="33.5" dy="6.5">Sanitária</tspan></text><text class="d" y="19.7"><tspan x="20">4 horas</tspan><tspan x="47.5">0%</tspan><tspan x="20" dy="7">27/08/12</tspan><tspan x="47.5">27/08/12</tspan></text></g>
<g id="n1.4.5" transform="translate(855,1057)"><use href="#a3"/><text class="c" y="-1.5">1.4.5</text><text class="i" x="-17.5" y="4.7">175</text><text class="t" x="31.5" y="6.2">Divulgação dos<tspan x="31.5" dy="6.5">Produtos e</tspan><tspan x="31.5" dy="6.5">Serviços</tspan></text><text class="d" y="26.2"><tspan x="19">11,36 dias</tspan><tspan x="44.5">75%</tspan><tspan x="19" dy="7">16/08/12</tspan><tspan x="44.5">04/09/12</tspan></text></g>
<g id="n1.4.5.1" transform="translate(822,1102)"><use href="#a2"/><text class="c" y="-1.5">1.4.5.1</text><text class="i" x="-14.2" y="4.7">176</text><text class="t" x="31.5" y="6.2">Definição do<tspan x="31.5" dy="6.5">material divulgável</tspan></text><text class="d" y="19.7"><tspan x="19">12 horas</tspan><tspan x="44.5">75%</tspan><tspan x="19" dy="7">16/08/12</tspan><tspan x="44.5">20/08/12</tspan></text></g>
<g id="n1.4.5.2" transform="translate(822,1139)"><use href="#a2"/><text class="c" y="-1.5">1.4.5.2</text><text class="i" x="-14.2" y="4.7">177</text><text class="t" x="31.5" y="6.2">Veículos<tspan x="31.5" dy="6.5">impressos</tspan></text><text class="d" y="19.7"><tspan x="19">4 horas</tspan><tspan x="44.5">75%</tspan><tspan x="19" dy="7">20/08/12</tspan><tspan x="44.5">20/08/12</tspan></text></g>
<g id="n1.4.5.3" transform="translate(889,1102)"><use href="#a2"/><text class="c" y="-1.5">1.4.5.3</text><text class="i" x="-14.2" y="4.7">178</text><text class="t" x="31.5" y="6.2">Veículos<tspan x="31.5" dy="6.5">Audiovisuais</tspan></text><text class="d" y="19.7"><tspan x="19">4 horas</tspan><tspan x="44.5">75%</tspan><tspan x="19" dy="7">20/08/12</tspan><tspan x="44.5">21/08/12</tspan></text></g>
<g id="n1.4.5.4" transform="translate(889,1139)"><use href="#a1"/><text class="c" y="-1.5">1.4.5.4</text><text class="i" x="-11" y="4.7">179</text><text class="t" x="31.5" y="6.2">Feiras e eventos</text><text class="d" y="13.2"><tspan x="19">16 horas</tspan><tspan x="44.5">75%</tspan><tspan x="19" dy="7">21/08/12</tspan><tspan x="44.5">23/08/12</tspan></text></g>
<g id="n1.4.5.5" transform="translate(889,1171)"><use href="#a1"/><text class="c" y="-1.5">1.4.5.5</text><text class="i" x="-11" y="4.7">180</text><text class="t" x="31.5" y="6.2">Grandes clientes</text><text class="d" y="13.2"><tspan x="19">64 horas</tspan><tspan x="44.5">75%</tspan><tspan x="19" dy="7">23/08/12</tspan><tspan x="44.5">04/09/12</tspan></text></g>

<g id="n1.4.6" class="k" transform="translate(919,1206)"><use href="#b2"/><text class="c" y="-1.5">1.4.6</text><text class="i" x="-14.2" y="4.7">181</text><text class="t" x="33.5" y="6.2">Inauguração do<tspan x="33.5" dy="6.5">Negócio</tspan></text><text class="d" y="19.7"><tspan x="20">17,55 dias</tspan><tspan x="47.5">10%</tspan><tspan x="20" dy="7">30/08/12</tspan><tspan x="47.5">28/09/12</tspan></text></g>
<g id="n1.4.6.1" transform="translate(877,1245)"><use href="#a2"/><text class="c" y="-1.5">1.4.6.1</text><text class="i" x="-14.2" y="4.7">182</text><text class="t" x="31.5" y="6.2">Definição do tipo<tspan x="31.5" dy="6.5">de evento</tspan></text><text class="d" y="19.7"><tspan x="19">0,45 dias</tspan><tspan x="44.5">100%</tspan><tspan x="19" dy="7">30/08/12</tspan><tspan x="44.5">31/08/12</tspan></text></g>
<g id="n1.4.6.1.1" transform="translate(888,1285)"><use href="#a2"/><text class="c" y="-1.5">1.4.6.1.1</text><text class="i" x="-14.2" y="4.7">183</text><text class="t" x="31.5" y="6.2">Reunião com<tspan x="31.5" dy="6.5">sócios</tspan></text><text class="d" y="19.7"><tspan x="19">4 horas</tspan><tspan x="44.5">100%</tspan><tspan x="19" dy="7">30/08/12</tspan><tspan x="44.5">31/08/12</tspan></text></g>
<g id="n1.4.6.2" class="k" transform="translate(855,1327)"><use href="#a2"/><text class="c" y="-1.5">1.4.6.2</text><text class="i" x="-14.2" y="4.7">184</text><text class="t" x="31.5" y="6.2">Contratação de<tspan x="31.5" dy="6.5">serviços</tspan></text><text class="d" y="19.7"><tspan x="19">0,68 dias</tspan><tspan x="44.5">50%</tspan><tspan x="19" dy="7">25/09/12</tspan><tspan x="44.5">26/09/12</tspan></text></g>
<g id="n1.4.6.2.1" transform="translate(822,1366)"><use href="#a2"/><text class="c" y="-1.5">1.4.6.2.1</text><text class="i" x="-14.2" y="4.7">185</text><text class="t" x="31.5" y="6.2">Buffet (comida,<tspan x="31.5" dy="6.5">bebida e garçons)</tspan></text><text class="d" y="19.7"><tspan x="19">2 horas</tspan><tspan x="44.5">50%</tspan><tspan x="19" dy="7">25/09/12</tspan><tspan x="44.5">26/09/12</tspan></text></g>
<g id="n1.4.6.2.2" transform="translate(888,1366)"><use href="#a2"/><text class="c" y="-1.5">1.4.6.2.2</text><text class="i" x="-14.2" y="4.7">186</text><text class="t" x="31.5" y="6.2">Sonorização e<tspan x="31.5" dy="6.5">iluminação</tspan></text><text class="d" y="19.7"><tspan x="19">2 horas</tspan><tspan x="44.5">50%</tspan><tspan x="19" dy="7">26/09/12</tspan><tspan x="44.5">26/09/12</tspan></text></g>
<g id="n1.4.6.2.3" class="k" transform="translate(888,1405)"><use href="#a1"/><text class="c" y="-1.5">1.4.6.2.3</text><text class="i" x="-11" y="4.7">187</text><text class="t" x="31.5" y="6.2">Recepção</text><text class="d" y="13.2"><tspan x="19">2 horas</tspan><tspan x="44.5">50%</tspan><tspan x="19" dy="7">26/09/12</tspan><tspan x="44.5">26/09/12</tspan></text></g>
<g id="n1.4.6.3" class="k" transform="translate(1052,1248)"><use href="#a1"/><text class="c" y="-1.5">1.4.6.3</text><text class="i" x="-11" y="4.7">188</text><text class="t" x="31.5" y="6.2">Convites</text><text class="d" y="13.2"><tspan x="19">15,91 dias</tspan><tspan x="44.5">0%</tspan><tspan x="19" dy="7">31/08/12</tspan><tspan x="44.5">25/09/12</tspan></text></g>
<g id="n1.4.6.3.1" class="k" transform="translate(987,1278)"><use href="#a1"/><text class="c" y="-1.5">1.4.6.3.1</text><text class="i" x="-11" y="4.7">189</text><text class="t" x="31.5" y="6.2">Confecção</text><text class="d" y="13.2"><tspan x="19">7,73 dias</tspan><tspan x="44.5">15%</tspan><tspan x="19" dy="7">31/08/12</tspan><tspan x="44.5">12/09/12</tspan></text></g>
<g id="n1.4.6.3.1.1" class="k" transform="translate(953,1312)"><use href="#a1"/><text class="c" y="-1.5">1.4.6.3.1.1</text><text class="i" x="-11" y="4.7">190</text><text class="t" x="31.5" y="6.2">Design</text><text class="d" y="13.2"><tspan x="19">20 horas</tspan><tspan x="44.5">50%</tspan><tspan x="19" dy="7">31/08/12</tspan><tspan x="44.5">04/09/12</tspan></text></g>
<g id="n1.4.6.3.1.2" class="k" transform="translate(1019,1312)"><use href="#a1"/><text class="c" y="-1.5">1.4.6.3.1.2</text><text class="i" x="-11" y="4.7">191</text><text class="t" x="31.5" y="6.2">Impressão</text><text class="d" y="13.2"><tspan x="19">40 horas</tspan><tspan x="44.5">0%</tspan><tspan x="19" dy="7">04/09/12</tspan><tspan x="44.5">12/09/12</tspan></text></g>
<g id="n1.4.6.3.2" class="k" transform="translate(1085,1278)"><use href="#a1"/><text class="c" y="-1.5">1.4.6.3.2</text><text class="i" x="-11" y="4.7">192</text><text class="t" x="31.5" y="6.2">Envelopamento</text><text class="d" y="13.2"><tspan x="19">0,91 dias</tspan><tspan x="44.5">0%</tspan><tspan x="19" dy="7">12/09/12</tspan><tspan x="44.5">13/09/12</tspan></text></g>
<g id="n1.4.6.3.2.1" class="k" transform="translate(1097,1312)"><use href="#a1"/><text class="c" y="-1.5">1.4.6.3.2.1</text><text class="i" x="-11" y="4.7">193</text><text class="t" x="31.5" y="6.2">Envelopamento</text><text class="d" y="13.2"><tspan x="19">8 horas</tspan><tspan x="44.5">0%</tspan><tspan x="19" dy="7">12/09/12</tspan><tspan x="44.5">13/09/12</tspan></text></g>
<g id="n1.4.6.3.3" class="k" transform="translate(1118,1349)"><use href="#a1"/><text class="c" y="-1.5">1.4.6.3.3</text><text class="i" x="-11" y="4.7">194</text><text class="t" x="31.5" y="6.2">Entrega</text><text class="d" y="13.2"><tspan x="19">7,7 dias</tspan><tspan x="44.5">0%</tspan><tspan x="19" dy="7">13/09/12</tspan><tspan x="44.5">25/09/12</tspan></text></g>
<g id="n1.4.6.3.3.1" class="k" transform="translate(1086,1382)"><use href="#a1"/><text class="c" y="-1.5">1.4.6.3.3.1</text><text class="i" x="-11" y="4.7">195</text><text class="t" x="31.5" y="6.2">Correios</text><text class="d" y="13.2"><tspan x="19">40 horas</tspan><tspan x="44.5">0%</tspan><tspan x="19" dy="7">13/09/12</tspan><tspan x="44.5">21/09/12</tspan></text></g>
<g id="n1.4.6.3.3.2" transform="translate(1151,1382)"><use href="#a1"/><text class="c" y="-1.5">1.4.6.3.3.2</text><text class="i" x="-11" y="4.7">196</text><text class="t" x="31.5" y="6.2">Pessoalmente</text><text class="d" y="13.2"><tspan x="19">16 horas</tspan><tspan x="44.5">0%</tspan><tspan x="19" dy="7">13/09/12</tspan><tspan x="44.5">17/09/12</tspan></text></g>
<g id="n1.4.6.3.3.3" class="k" transform="translate(1151,1413)"><use href="#a1"/><text class="c" y="-1.5">1.4.6.3.3.3</text><text class="i" x="-11" y="4.7">197</text><text class="t" x="31.5" y="6.2">Confirmações</text><text class="d" y="13.2"><tspan x="19">16 horas</tspan><tspan x="44.5">0%</tspan><tspan x="19" dy="7">21/09/12</tspan><tspan x="44.5">25/09/12</tspan></text></g>
<g id="n1.4.6.4" class="k" transform="translate(953,1347)"><use href="#a2"/><text class="c" y="-1.5">1.4.6.4</text><text class="i" x="-14.2" y="4.7">198</text><text class="t" x="31.5" y="6.2">Evento de<tspan x="31.5" dy="6.5">inauguração</tspan></text><text class="d" y="19.7"><tspan x="19">0,66 dias</tspan><tspan x="44.5">0%</tspan><tspan x="19" dy="7">25/09/12</tspan><tspan x="44.5">28/09/12</tspan></text></g>
<g id="n1.4.6.4.1" class="k" transform="translate(964,1387)"><use href="#a2"/><text class="c" y="-1.5">1.4.6.4.1</text><text class="i" x="-14.2" y="4.7">199</text><text class="t" x="31.5" y="6.2">Evento de<tspan x="31.5" dy="6.5">inauguração</tspan></text><text class="d" y="19.7"><tspan x="19">0 horas</tspan><tspan x="44.5">0%</tspan><tspan x="19" dy="7">28/09/12</tspan><tspan x="44.5">28/09/12</tspan></text></g>
</svg>
